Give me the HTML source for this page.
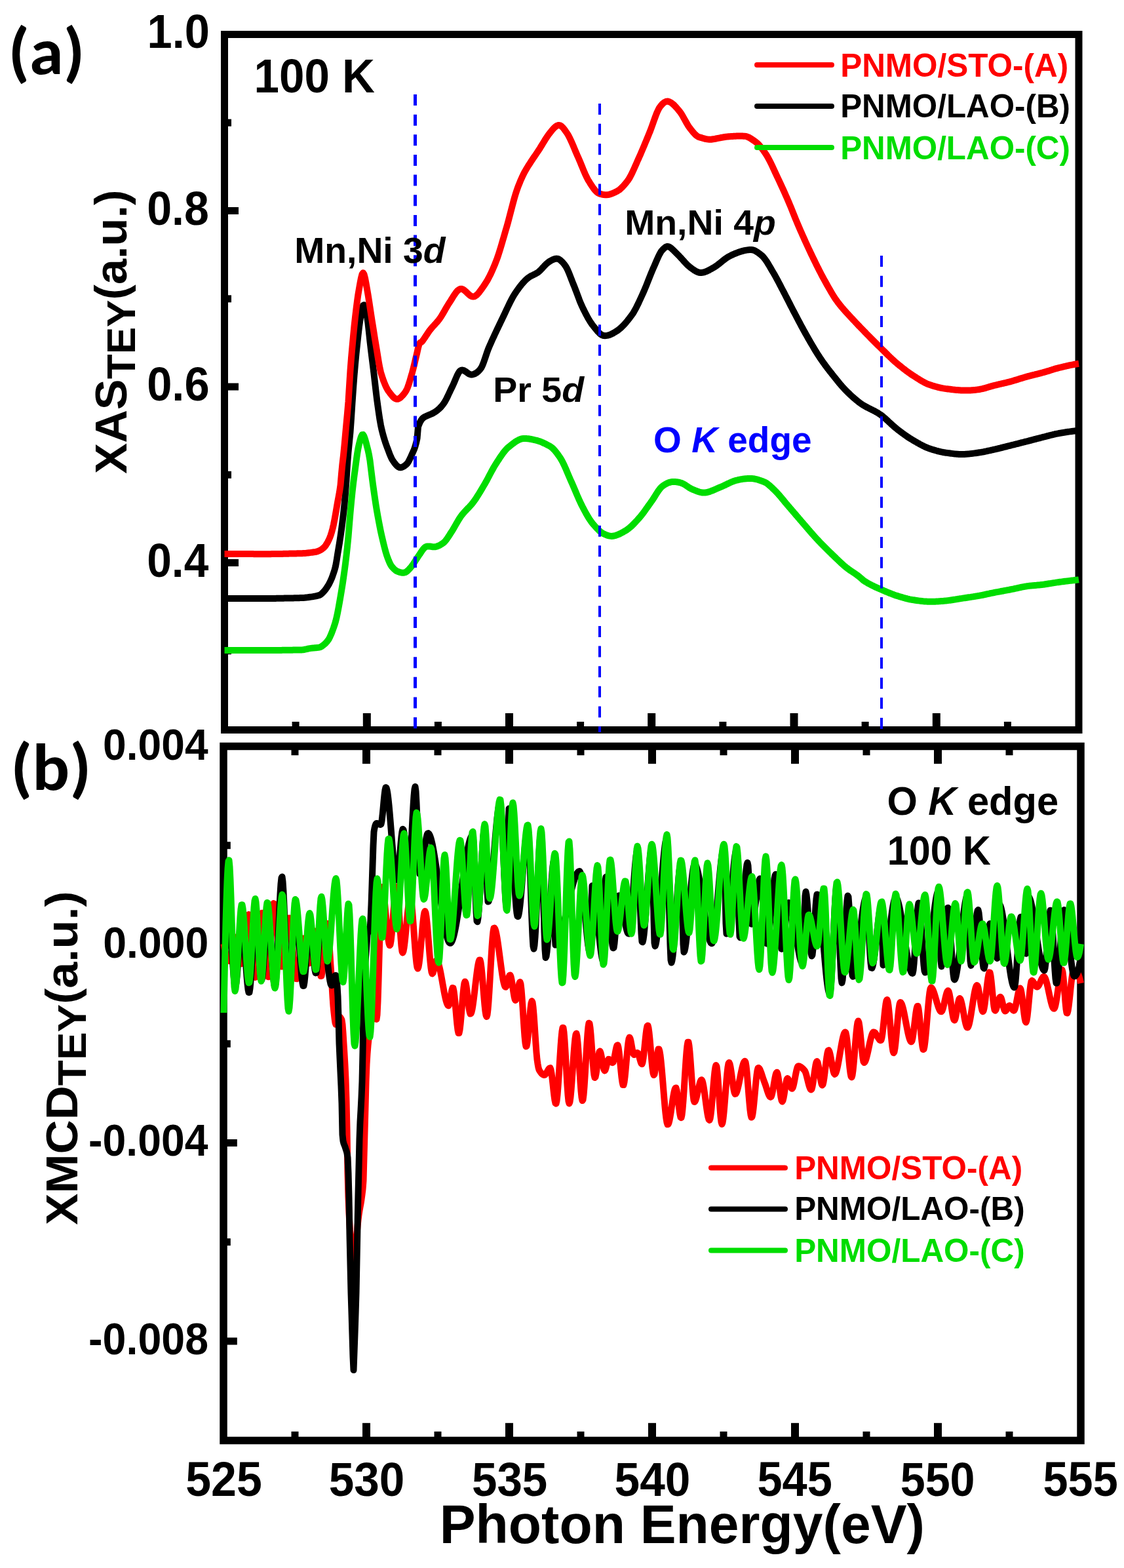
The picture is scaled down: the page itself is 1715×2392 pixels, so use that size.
<!DOCTYPE html><html><head><meta charset="utf-8"><title>XAS XMCD</title><style>
html,body{margin:0;padding:0;background:#fff;width:1715px;height:2392px;overflow:hidden}
svg{display:block}
text{font-family:"Liberation Sans", Arial, Helvetica, sans-serif;font-weight:bold}
.lbl{font-family:Carlito,"Liberation Sans",sans-serif;font-weight:bold}
</style></head><body>
<svg xmlns="http://www.w3.org/2000/svg" width="1715" height="2392" viewBox="0 0 1715 2392">
<rect x="342.5" y="52.5" width="1303.5" height="1061.0" fill="none" stroke="#000" stroke-width="11"/>
<g fill="#000"><rect x="445.6" y="1101.0" width="11" height="9"/><rect x="553.8" y="1088.0" width="12" height="22"/><rect x="662.9" y="1101.0" width="11" height="9"/><rect x="771.0" y="1088.0" width="12" height="22"/><rect x="880.1" y="1101.0" width="11" height="9"/><rect x="988.2" y="1088.0" width="12" height="22"/><rect x="1097.4" y="1101.0" width="11" height="9"/><rect x="1205.5" y="1088.0" width="12" height="22"/><rect x="1314.6" y="1101.0" width="11" height="9"/><rect x="1422.8" y="1088.0" width="12" height="22"/><rect x="1531.9" y="1101.0" width="11" height="9"/><rect x="347.0" y="181.7" width="6" height="11"/><rect x="347.0" y="316.0" width="17" height="11"/><rect x="347.0" y="450.3" width="6" height="11"/><rect x="347.0" y="584.5" width="17" height="11"/><rect x="347.0" y="718.8" width="6" height="11"/><rect x="347.0" y="853.0" width="17" height="11"/><rect x="347.0" y="987.3" width="6" height="11"/></g>
<g fill="none" stroke-linejoin="round" stroke-linecap="butt">
<path d="M342.5,992.0 L344.0,992.0 L345.5,992.0 L347.0,992.0 L348.5,992.0 L350.0,992.0 L351.5,992.0 L353.0,992.0 L354.5,992.0 L356.0,992.0 L357.5,992.0 L359.0,992.0 L360.5,992.0 L362.0,992.0 L363.5,992.0 L365.0,992.0 L366.5,992.0 L368.0,992.0 L369.5,992.0 L371.0,992.0 L372.5,992.0 L374.0,992.0 L375.5,992.0 L377.0,992.0 L378.5,992.0 L380.0,992.0 L381.5,992.0 L383.0,992.0 L384.5,992.0 L386.0,992.0 L387.5,992.0 L389.0,992.0 L390.5,992.0 L392.0,992.0 L393.5,992.0 L395.0,992.0 L396.5,992.0 L398.0,992.0 L399.5,992.0 L401.0,992.0 L402.5,992.0 L404.0,992.0 L405.5,992.0 L407.0,992.0 L408.5,992.0 L410.0,992.0 L411.5,992.0 L413.0,992.0 L414.5,992.0 L416.0,992.0 L417.5,992.0 L419.0,991.9 L420.5,991.9 L422.0,991.9 L423.5,991.9 L425.0,991.9 L426.5,991.9 L428.0,991.9 L429.5,991.9 L431.0,991.8 L432.5,991.8 L434.0,991.8 L435.5,991.8 L437.0,991.8 L438.5,991.8 L440.0,991.7 L441.5,991.7 L443.0,991.7 L444.5,991.7 L446.0,991.7 L447.5,991.6 L449.0,991.6 L450.5,991.6 L452.0,991.6 L453.5,991.5 L455.0,991.5 L456.5,991.5 L458.0,991.4 L459.5,991.4 L461.0,991.4 L462.5,991.2 L464.0,991.0 L465.5,990.7 L467.0,990.4 L468.5,990.1 L470.0,989.7 L471.5,989.4 L473.0,989.1 L474.5,988.9 L476.0,988.7 L477.5,988.6 L479.0,988.4 L480.5,988.3 L482.0,988.2 L483.5,988.1 L485.0,987.9 L486.5,987.7 L488.0,987.4 L489.5,986.8 L491.0,985.9 L492.5,984.8 L494.0,983.6 L495.5,982.4 L497.0,981.0 L498.5,979.3 L500.0,977.4 L501.5,975.3 L503.0,972.5 L504.5,969.2 L506.0,965.7 L507.5,961.7 L509.0,957.6 L510.5,953.2 L512.0,948.2 L513.5,942.3 L515.0,935.2 L516.5,927.4 L518.0,919.0 L519.5,910.3 L521.0,901.4 L522.5,892.1 L524.0,882.0 L525.5,871.4 L527.0,860.2 L528.5,847.7 L530.0,834.0 L531.5,818.7 L533.0,800.2 L534.5,782.0 L536.0,766.0 L537.5,751.0 L539.0,737.6 L540.5,725.9 L542.0,714.8 L543.5,703.5 L545.0,692.7 L546.5,683.9 L548.0,677.2 L549.5,671.1 L551.0,666.2 L552.5,663.3 L554.0,663.1 L555.5,665.6 L557.0,669.9 L558.5,675.2 L560.0,680.9 L561.5,686.7 L563.0,693.8 L564.5,702.7 L566.0,715.0 L567.5,727.2 L569.0,738.8 L570.5,749.5 L572.0,760.0 L573.5,769.9 L575.0,779.1 L576.5,787.6 L578.0,795.7 L579.5,803.5 L581.0,810.9 L582.5,817.8 L584.0,824.2 L585.5,830.4 L587.0,836.4 L588.5,841.9 L590.0,846.9 L591.5,851.1 L593.0,855.0 L594.5,858.5 L596.0,861.6 L597.5,863.9 L599.0,865.6 L600.5,867.3 L602.0,868.7 L603.5,870.0 L605.0,871.0 L606.5,871.7 L608.0,872.3 L609.5,872.8 L611.0,873.2 L612.5,873.5 L614.0,873.7 L615.5,873.7 L617.0,873.5 L618.5,873.1 L620.0,872.2 L621.5,871.1 L623.0,869.7 L624.5,868.1 L626.0,866.4 L627.5,864.6 L629.0,862.7 L630.5,860.6 L632.0,858.3 L633.5,855.9 L635.0,853.5 L636.5,851.2 L638.0,849.0 L639.5,846.8 L641.0,844.6 L642.5,842.3 L644.0,840.0 L645.5,838.0 L647.0,836.2 L648.5,834.9 L650.0,834.0 L651.5,833.5 L653.0,833.4 L654.5,833.4 L656.0,833.5 L657.5,833.7 L659.0,834.0 L660.5,834.2 L662.0,834.3 L663.5,834.3 L665.0,834.0 L666.5,833.6 L668.0,833.0 L669.5,832.4 L671.0,831.7 L672.5,830.8 L674.0,829.9 L675.5,828.9 L677.0,827.8 L678.5,826.4 L680.0,824.6 L681.5,822.7 L683.0,820.5 L684.5,818.2 L686.0,815.9 L687.5,813.5 L689.0,811.2 L690.5,808.9 L692.0,806.4 L693.5,803.8 L695.0,801.1 L696.5,798.5 L698.0,795.9 L699.5,793.4 L701.0,791.0 L702.5,788.7 L704.0,786.6 L705.5,784.7 L707.0,782.9 L708.5,781.2 L710.0,779.6 L711.5,778.0 L713.0,776.4 L714.5,774.9 L716.0,773.3 L717.5,771.7 L719.0,770.0 L720.5,768.2 L722.0,766.3 L723.5,764.3 L725.0,762.2 L726.5,759.9 L728.0,757.6 L729.5,755.3 L731.0,752.9 L732.5,750.4 L734.0,747.9 L735.5,745.4 L737.0,742.8 L738.5,740.3 L740.0,737.7 L741.5,735.1 L743.0,732.3 L744.5,729.5 L746.0,726.7 L747.5,723.8 L749.0,721.0 L750.5,718.2 L752.0,715.5 L753.5,712.8 L755.0,710.3 L756.5,707.9 L758.0,705.6 L759.5,703.2 L761.0,700.9 L762.5,698.6 L764.0,696.4 L765.5,694.2 L767.0,692.1 L768.5,690.1 L770.0,688.2 L771.5,686.4 L773.0,684.8 L774.5,683.3 L776.0,682.0 L777.5,680.8 L779.0,679.6 L780.5,678.4 L782.0,677.2 L783.5,676.1 L785.0,675.0 L786.5,673.9 L788.0,673.0 L789.5,672.1 L791.0,671.3 L792.5,670.6 L794.0,670.0 L795.5,669.5 L797.0,669.2 L798.5,669.0 L800.0,669.0 L801.5,669.0 L803.0,669.1 L804.5,669.2 L806.0,669.3 L807.5,669.5 L809.0,669.8 L810.5,670.0 L812.0,670.3 L813.5,670.7 L815.0,671.0 L816.5,671.4 L818.0,671.7 L819.5,672.1 L821.0,672.6 L822.5,673.0 L824.0,673.6 L825.5,674.1 L827.0,674.7 L828.5,675.4 L830.0,676.1 L831.5,676.8 L833.0,677.5 L834.5,678.3 L836.0,679.1 L837.5,679.9 L839.0,680.7 L840.5,681.7 L842.0,682.8 L843.5,684.1 L845.0,685.6 L846.5,687.3 L848.0,689.1 L849.5,691.0 L851.0,693.0 L852.5,695.1 L854.0,697.3 L855.5,699.6 L857.0,702.1 L858.5,704.9 L860.0,708.0 L861.5,711.2 L863.0,714.6 L864.5,718.0 L866.0,721.6 L867.5,725.1 L869.0,728.6 L870.5,732.1 L872.0,735.4 L873.5,738.8 L875.0,742.3 L876.5,745.8 L878.0,749.3 L879.5,752.9 L881.0,756.4 L882.5,759.8 L884.0,763.2 L885.5,766.4 L887.0,769.5 L888.5,772.5 L890.0,775.3 L891.5,778.2 L893.0,781.0 L894.5,783.7 L896.0,786.4 L897.5,788.9 L899.0,791.3 L900.5,793.6 L902.0,795.8 L903.5,797.8 L905.0,799.6 L906.5,801.3 L908.0,803.0 L909.5,804.7 L911.0,806.3 L912.5,807.8 L914.0,809.3 L915.5,810.6 L917.0,811.8 L918.5,812.9 L920.0,813.8 L921.5,814.5 L923.0,815.2 L924.5,815.8 L926.0,816.4 L927.5,816.9 L929.0,817.3 L930.5,817.6 L932.0,817.8 L933.5,817.9 L935.0,817.8 L936.5,817.5 L938.0,817.2 L939.5,816.8 L941.0,816.3 L942.5,815.7 L944.0,815.1 L945.5,814.4 L947.0,813.7 L948.5,812.9 L950.0,812.1 L951.5,811.2 L953.0,810.4 L954.5,809.5 L956.0,808.6 L957.5,807.5 L959.0,806.4 L960.5,805.2 L962.0,803.9 L963.5,802.6 L965.0,801.1 L966.5,799.6 L968.0,798.1 L969.5,796.5 L971.0,794.9 L972.5,793.3 L974.0,791.6 L975.5,789.9 L977.0,788.2 L978.5,786.3 L980.0,784.4 L981.5,782.4 L983.0,780.4 L984.5,778.3 L986.0,776.2 L987.5,774.1 L989.0,772.0 L990.5,769.9 L992.0,767.8 L993.5,765.7 L995.0,763.6 L996.5,761.4 L998.0,759.0 L999.5,756.6 L1001.0,754.2 L1002.5,751.8 L1004.0,749.5 L1005.5,747.4 L1007.0,745.4 L1008.5,743.7 L1010.0,742.3 L1011.5,741.1 L1013.0,740.1 L1014.5,739.1 L1016.0,738.3 L1017.5,737.5 L1019.0,736.8 L1020.5,736.2 L1022.0,735.8 L1023.5,735.4 L1025.0,735.1 L1026.5,735.0 L1028.0,735.0 L1029.5,735.0 L1031.0,735.1 L1032.5,735.3 L1034.0,735.5 L1035.5,735.7 L1037.0,736.1 L1038.5,736.5 L1040.0,737.0 L1041.5,737.6 L1043.0,738.4 L1044.5,739.2 L1046.0,740.2 L1047.5,741.2 L1049.0,742.2 L1050.5,743.2 L1052.0,744.1 L1053.5,745.0 L1055.0,745.8 L1056.5,746.5 L1058.0,747.1 L1059.5,747.7 L1061.0,748.3 L1062.5,748.9 L1064.0,749.5 L1065.5,750.0 L1067.0,750.5 L1068.5,750.9 L1070.0,751.2 L1071.5,751.5 L1073.0,751.6 L1074.5,751.6 L1076.0,751.5 L1077.5,751.3 L1079.0,751.0 L1080.5,750.6 L1082.0,750.2 L1083.5,749.7 L1085.0,749.1 L1086.5,748.6 L1088.0,748.0 L1089.5,747.3 L1091.0,746.7 L1092.5,746.0 L1094.0,745.3 L1095.5,744.7 L1097.0,744.0 L1098.5,743.4 L1100.0,742.8 L1101.5,742.2 L1103.0,741.5 L1104.5,740.8 L1106.0,740.1 L1107.5,739.4 L1109.0,738.6 L1110.5,737.9 L1112.0,737.2 L1113.5,736.5 L1115.0,735.8 L1116.5,735.2 L1118.0,734.6 L1119.5,734.0 L1121.0,733.5 L1122.5,733.0 L1124.0,732.6 L1125.5,732.3 L1127.0,731.9 L1128.5,731.6 L1130.0,731.3 L1131.5,731.1 L1133.0,730.8 L1134.5,730.6 L1136.0,730.5 L1137.5,730.3 L1139.0,730.2 L1140.5,730.1 L1142.0,730.1 L1143.5,730.0 L1145.0,730.0 L1146.5,730.0 L1148.0,730.1 L1149.5,730.3 L1151.0,730.5 L1152.5,730.8 L1154.0,731.1 L1155.5,731.5 L1157.0,731.9 L1158.5,732.4 L1160.0,732.9 L1161.5,733.5 L1163.0,734.0 L1164.5,734.6 L1166.0,735.2 L1167.5,735.9 L1169.0,736.7 L1170.5,737.7 L1172.0,738.9 L1173.5,740.1 L1175.0,741.4 L1176.5,742.7 L1178.0,744.1 L1179.5,745.6 L1181.0,747.0 L1182.5,748.5 L1184.0,750.0 L1185.5,751.6 L1187.0,753.2 L1188.5,754.9 L1190.0,756.6 L1191.5,758.4 L1193.0,760.2 L1194.5,762.0 L1196.0,763.8 L1197.5,765.7 L1199.0,767.5 L1200.5,769.2 L1202.0,771.0 L1203.5,772.7 L1205.0,774.5 L1206.5,776.2 L1208.0,778.0 L1209.5,779.7 L1211.0,781.5 L1212.5,783.2 L1214.0,785.0 L1215.5,786.8 L1217.0,788.5 L1218.5,790.3 L1220.0,792.0 L1221.5,793.8 L1223.0,795.5 L1224.5,797.2 L1226.0,799.0 L1227.5,800.7 L1229.0,802.4 L1230.5,804.2 L1232.0,805.9 L1233.5,807.7 L1235.0,809.4 L1236.5,811.2 L1238.0,812.9 L1239.5,814.6 L1241.0,816.3 L1242.5,818.0 L1244.0,819.7 L1245.5,821.3 L1247.0,822.9 L1248.5,824.5 L1250.0,826.1 L1251.5,827.7 L1253.0,829.2 L1254.5,830.8 L1256.0,832.3 L1257.5,833.8 L1259.0,835.3 L1260.5,836.8 L1262.0,838.3 L1263.5,839.8 L1265.0,841.2 L1266.5,842.7 L1268.0,844.1 L1269.5,845.6 L1271.0,847.0 L1272.5,848.5 L1274.0,849.9 L1275.5,851.4 L1277.0,852.8 L1278.5,854.2 L1280.0,855.7 L1281.5,857.1 L1283.0,858.5 L1284.5,859.9 L1286.0,861.2 L1287.5,862.6 L1289.0,863.8 L1290.5,865.1 L1292.0,866.3 L1293.5,867.4 L1295.0,868.5 L1296.5,869.6 L1298.0,870.7 L1299.5,871.7 L1301.0,872.7 L1302.5,873.7 L1304.0,874.7 L1305.5,875.7 L1307.0,876.8 L1308.5,877.9 L1310.0,879.0 L1311.5,880.2 L1313.0,881.5 L1314.5,882.8 L1316.0,884.1 L1317.5,885.4 L1319.0,886.5 L1320.5,887.4 L1322.0,888.3 L1323.5,889.2 L1325.0,890.1 L1326.5,890.9 L1328.0,891.7 L1329.5,892.5 L1331.0,893.2 L1332.5,893.9 L1334.0,894.7 L1335.5,895.4 L1337.0,896.1 L1338.5,896.7 L1340.0,897.4 L1341.5,898.0 L1343.0,898.7 L1344.5,899.3 L1346.0,900.0 L1347.5,900.6 L1349.0,901.3 L1350.5,901.9 L1352.0,902.6 L1353.5,903.2 L1355.0,903.8 L1356.5,904.4 L1358.0,905.1 L1359.5,905.6 L1361.0,906.2 L1362.5,906.8 L1364.0,907.3 L1365.5,907.9 L1367.0,908.4 L1368.5,908.8 L1370.0,909.3 L1371.5,909.8 L1373.0,910.2 L1374.5,910.7 L1376.0,911.1 L1377.5,911.6 L1379.0,912.0 L1380.5,912.4 L1382.0,912.8 L1383.5,913.2 L1385.0,913.6 L1386.5,913.9 L1388.0,914.3 L1389.5,914.6 L1391.0,914.8 L1392.5,915.1 L1394.0,915.3 L1395.5,915.5 L1397.0,915.8 L1398.5,916.0 L1400.0,916.2 L1401.5,916.4 L1403.0,916.6 L1404.5,916.8 L1406.0,917.0 L1407.5,917.1 L1409.0,917.3 L1410.5,917.4 L1412.0,917.5 L1413.5,917.6 L1415.0,917.7 L1416.5,917.8 L1418.0,917.8 L1419.5,917.8 L1421.0,917.8 L1422.5,917.8 L1424.0,917.7 L1425.5,917.7 L1427.0,917.7 L1428.5,917.6 L1430.0,917.5 L1431.5,917.4 L1433.0,917.3 L1434.5,917.2 L1436.0,917.1 L1437.5,917.0 L1439.0,916.9 L1440.5,916.7 L1442.0,916.6 L1443.5,916.4 L1445.0,916.3 L1446.5,916.1 L1448.0,915.9 L1449.5,915.7 L1451.0,915.5 L1452.5,915.3 L1454.0,915.0 L1455.5,914.8 L1457.0,914.6 L1458.5,914.3 L1460.0,914.1 L1461.5,913.8 L1463.0,913.6 L1464.5,913.3 L1466.0,913.1 L1467.5,912.9 L1469.0,912.6 L1470.5,912.4 L1472.0,912.2 L1473.5,912.0 L1475.0,911.8 L1476.5,911.5 L1478.0,911.3 L1479.5,911.1 L1481.0,910.9 L1482.5,910.6 L1484.0,910.4 L1485.5,910.2 L1487.0,909.9 L1488.5,909.7 L1490.0,909.4 L1491.5,909.2 L1493.0,908.9 L1494.5,908.7 L1496.0,908.4 L1497.5,908.1 L1499.0,907.8 L1500.5,907.5 L1502.0,907.2 L1503.5,906.8 L1505.0,906.5 L1506.5,906.2 L1508.0,905.9 L1509.5,905.6 L1511.0,905.2 L1512.5,904.9 L1514.0,904.6 L1515.5,904.3 L1517.0,904.0 L1518.5,903.7 L1520.0,903.4 L1521.5,903.1 L1523.0,902.9 L1524.5,902.6 L1526.0,902.3 L1527.5,902.0 L1529.0,901.7 L1530.5,901.5 L1532.0,901.2 L1533.5,900.9 L1535.0,900.6 L1536.5,900.3 L1538.0,900.1 L1539.5,899.8 L1541.0,899.5 L1542.5,899.2 L1544.0,898.9 L1545.5,898.6 L1547.0,898.3 L1548.5,897.9 L1550.0,897.6 L1551.5,897.3 L1553.0,897.0 L1554.5,896.6 L1556.0,896.3 L1557.5,896.0 L1559.0,895.7 L1560.5,895.4 L1562.0,895.1 L1563.5,894.8 L1565.0,894.6 L1566.5,894.3 L1568.0,894.1 L1569.5,893.9 L1571.0,893.7 L1572.5,893.6 L1574.0,893.4 L1575.5,893.3 L1577.0,893.2 L1578.5,893.0 L1580.0,892.9 L1581.5,892.8 L1583.0,892.6 L1584.5,892.5 L1586.0,892.4 L1587.5,892.2 L1589.0,892.0 L1590.5,891.9 L1592.0,891.7 L1593.5,891.5 L1595.0,891.2 L1596.5,891.0 L1598.0,890.8 L1599.5,890.5 L1601.0,890.3 L1602.5,890.1 L1604.0,889.8 L1605.5,889.6 L1607.0,889.3 L1608.5,889.1 L1610.0,888.9 L1611.5,888.6 L1613.0,888.4 L1614.5,888.2 L1616.0,888.0 L1617.5,887.8 L1619.0,887.6 L1620.5,887.4 L1622.0,887.2 L1623.5,887.0 L1625.0,886.8 L1626.5,886.6 L1628.0,886.4 L1629.5,886.3 L1631.0,886.1 L1632.5,885.9 L1634.0,885.7 L1635.5,885.5 L1637.0,885.4 L1638.5,885.2 L1640.0,885.0 L1641.5,884.9 L1643.0,884.7 L1644.5,884.6 L1646.0,884.4" stroke="#00dd00" stroke-width="10"/>
<path d="M342.5,913.0 L344.0,913.0 L345.5,913.0 L347.0,913.0 L348.5,913.0 L350.0,913.0 L351.5,913.0 L353.0,913.0 L354.5,913.0 L356.0,913.0 L357.5,913.0 L359.0,913.0 L360.5,913.0 L362.0,913.0 L363.5,913.0 L365.0,913.0 L366.5,913.0 L368.0,913.0 L369.5,913.0 L371.0,913.0 L372.5,913.0 L374.0,913.0 L375.5,913.0 L377.0,913.0 L378.5,913.0 L380.0,913.0 L381.5,913.0 L383.0,913.0 L384.5,913.0 L386.0,913.0 L387.5,913.0 L389.0,913.0 L390.5,913.0 L392.0,913.0 L393.5,913.0 L395.0,913.0 L396.5,913.0 L398.0,913.0 L399.5,913.0 L401.0,913.0 L402.5,913.0 L404.0,913.0 L405.5,913.0 L407.0,913.0 L408.5,913.0 L410.0,913.0 L411.5,913.0 L413.0,912.9 L414.5,912.9 L416.0,912.9 L417.5,912.9 L419.0,912.9 L420.5,912.9 L422.0,912.8 L423.5,912.8 L425.0,912.8 L426.5,912.8 L428.0,912.8 L429.5,912.7 L431.0,912.7 L432.5,912.7 L434.0,912.6 L435.5,912.6 L437.0,912.6 L438.5,912.6 L440.0,912.5 L441.5,912.5 L443.0,912.5 L444.5,912.4 L446.0,912.4 L447.5,912.4 L449.0,912.3 L450.5,912.3 L452.0,912.3 L453.5,912.2 L455.0,912.2 L456.5,912.2 L458.0,912.1 L459.5,912.1 L461.0,912.1 L462.5,912.0 L464.0,911.9 L465.5,911.7 L467.0,911.5 L468.5,911.4 L470.0,911.2 L471.5,911.0 L473.0,910.8 L474.5,910.6 L476.0,910.4 L477.5,910.2 L479.0,909.9 L480.5,909.6 L482.0,909.3 L483.5,909.0 L485.0,908.6 L486.5,908.2 L488.0,907.7 L489.5,906.8 L491.0,905.5 L492.5,904.0 L494.0,902.4 L495.5,900.7 L497.0,898.8 L498.5,896.6 L500.0,894.3 L501.5,891.9 L503.0,889.0 L504.5,885.8 L506.0,882.4 L507.5,878.4 L509.0,874.1 L510.5,869.5 L512.0,863.9 L513.5,855.7 L515.0,846.0 L516.5,837.1 L518.0,828.1 L519.5,818.3 L521.0,807.7 L522.5,796.2 L524.0,783.7 L525.5,769.4 L527.0,752.3 L528.5,732.5 L530.0,708.5 L531.5,689.4 L533.0,674.6 L534.5,658.9 L536.0,637.9 L537.5,614.5 L539.0,593.0 L540.5,572.9 L542.0,555.5 L543.5,539.5 L545.0,525.2 L546.5,511.5 L548.0,498.7 L549.5,487.7 L551.0,478.7 L552.5,470.9 L554.0,465.8 L555.5,465.2 L557.0,468.5 L558.5,474.7 L560.0,482.8 L561.5,493.2 L563.0,506.7 L564.5,520.9 L566.0,533.6 L567.5,545.8 L569.0,557.9 L570.5,570.1 L572.0,583.1 L573.5,596.3 L575.0,608.6 L576.5,619.7 L578.0,630.3 L579.5,640.2 L581.0,648.7 L582.5,655.6 L584.0,661.4 L585.5,666.8 L587.0,671.8 L588.5,676.4 L590.0,680.6 L591.5,684.6 L593.0,688.6 L594.5,692.6 L596.0,696.2 L597.5,699.4 L599.0,702.0 L600.5,704.2 L602.0,706.3 L603.5,708.2 L605.0,709.9 L606.5,711.3 L608.0,712.4 L609.5,713.0 L611.0,713.2 L612.5,713.0 L614.0,712.5 L615.5,711.8 L617.0,710.9 L618.5,709.7 L620.0,708.4 L621.5,706.9 L623.0,704.7 L624.5,701.9 L626.0,698.8 L627.5,695.5 L629.0,692.1 L630.5,688.9 L632.0,685.3 L633.5,681.0 L635.0,675.6 L636.5,669.0 L638.0,651.0 L639.5,647.1 L641.0,643.8 L642.5,641.2 L644.0,639.1 L645.5,637.6 L647.0,636.5 L648.5,635.7 L650.0,635.0 L651.5,634.3 L653.0,633.7 L654.5,633.0 L656.0,632.4 L657.5,631.8 L659.0,631.1 L660.5,630.4 L662.0,629.5 L663.5,628.6 L665.0,627.6 L666.5,626.5 L668.0,625.3 L669.5,624.0 L671.0,622.6 L672.5,621.1 L674.0,619.4 L675.5,617.6 L677.0,615.6 L678.5,613.3 L680.0,610.6 L681.5,607.8 L683.0,604.7 L684.5,601.5 L686.0,598.3 L687.5,595.1 L689.0,592.0 L690.5,589.0 L692.0,585.7 L693.5,582.2 L695.0,578.6 L696.5,575.1 L698.0,571.8 L699.5,569.0 L701.0,566.8 L702.5,565.3 L704.0,564.7 L705.5,564.6 L707.0,564.9 L708.5,565.6 L710.0,566.5 L711.5,567.5 L713.0,568.6 L714.5,569.7 L716.0,570.6 L717.5,571.2 L719.0,571.5 L720.5,571.4 L722.0,571.1 L723.5,570.6 L725.0,569.9 L726.5,569.0 L728.0,568.0 L729.5,566.7 L731.0,565.2 L732.5,563.6 L734.0,561.6 L735.5,558.7 L737.0,555.2 L738.5,551.2 L740.0,546.8 L741.5,542.3 L743.0,537.9 L744.5,533.7 L746.0,530.0 L747.5,526.6 L749.0,523.2 L750.5,519.8 L752.0,516.5 L753.5,513.3 L755.0,510.0 L756.5,506.8 L758.0,503.6 L759.5,500.5 L761.0,497.3 L762.5,494.2 L764.0,491.1 L765.5,488.0 L767.0,484.9 L768.5,481.8 L770.0,478.6 L771.5,475.4 L773.0,472.2 L774.5,469.0 L776.0,465.9 L777.5,462.8 L779.0,459.8 L780.5,456.9 L782.0,454.1 L783.5,451.5 L785.0,449.0 L786.5,446.7 L788.0,444.5 L789.5,442.4 L791.0,440.3 L792.5,438.3 L794.0,436.3 L795.5,434.4 L797.0,432.6 L798.5,430.9 L800.0,429.3 L801.5,427.7 L803.0,426.3 L804.5,425.0 L806.0,423.8 L807.5,422.7 L809.0,421.8 L810.5,420.9 L812.0,420.2 L813.5,419.5 L815.0,418.7 L816.5,418.0 L818.0,417.2 L819.5,416.3 L821.0,415.3 L822.5,414.1 L824.0,412.7 L825.5,411.2 L827.0,409.6 L828.5,407.9 L830.0,406.3 L831.5,404.7 L833.0,403.2 L834.5,401.8 L836.0,400.6 L837.5,399.5 L839.0,398.5 L840.5,397.6 L842.0,396.8 L843.5,396.1 L845.0,395.5 L846.5,395.0 L848.0,394.7 L849.5,394.6 L851.0,394.8 L852.5,395.3 L854.0,396.2 L855.5,397.4 L857.0,398.8 L858.5,400.3 L860.0,402.0 L861.5,403.9 L863.0,405.9 L864.5,408.5 L866.0,411.5 L867.5,414.9 L869.0,418.6 L870.5,422.5 L872.0,426.4 L873.5,430.3 L875.0,434.0 L876.5,437.7 L878.0,441.6 L879.5,445.6 L881.0,449.6 L882.5,453.6 L884.0,457.6 L885.5,461.3 L887.0,464.8 L888.5,468.1 L890.0,471.2 L891.5,474.3 L893.0,477.2 L894.5,480.2 L896.0,483.0 L897.5,485.7 L899.0,488.2 L900.5,490.7 L902.0,492.9 L903.5,495.1 L905.0,497.0 L906.5,498.9 L908.0,500.7 L909.5,502.6 L911.0,504.4 L912.5,506.1 L914.0,507.7 L915.5,509.1 L917.0,510.2 L918.5,511.1 L920.0,511.8 L921.5,512.1 L923.0,512.2 L924.5,512.1 L926.0,511.9 L927.5,511.6 L929.0,511.2 L930.5,510.7 L932.0,510.1 L933.5,509.3 L935.0,508.6 L936.5,507.7 L938.0,506.9 L939.5,505.9 L941.0,505.0 L942.5,504.0 L944.0,502.9 L945.5,501.7 L947.0,500.4 L948.5,499.0 L950.0,497.5 L951.5,496.0 L953.0,494.4 L954.5,492.7 L956.0,490.9 L957.5,489.1 L959.0,487.2 L960.5,485.3 L962.0,483.3 L963.5,481.3 L965.0,479.2 L966.5,476.9 L968.0,474.3 L969.5,471.6 L971.0,468.8 L972.5,465.8 L974.0,462.7 L975.5,459.5 L977.0,456.2 L978.5,453.0 L980.0,449.7 L981.5,446.4 L983.0,443.0 L984.5,439.4 L986.0,435.8 L987.5,432.0 L989.0,428.2 L990.5,424.4 L992.0,420.7 L993.5,416.9 L995.0,413.3 L996.5,409.8 L998.0,406.5 L999.5,403.0 L1001.0,399.5 L1002.5,396.1 L1004.0,392.7 L1005.5,389.5 L1007.0,386.7 L1008.5,384.1 L1010.0,382.1 L1011.5,380.5 L1013.0,379.0 L1014.5,377.7 L1016.0,376.7 L1017.5,376.1 L1019.0,376.0 L1020.5,376.4 L1022.0,377.2 L1023.5,378.2 L1025.0,379.4 L1026.5,380.8 L1028.0,382.2 L1029.5,383.7 L1031.0,385.2 L1032.5,386.7 L1034.0,388.2 L1035.5,389.7 L1037.0,391.3 L1038.5,392.9 L1040.0,394.6 L1041.5,396.2 L1043.0,397.9 L1044.5,399.6 L1046.0,401.2 L1047.5,402.8 L1049.0,404.3 L1050.5,405.7 L1052.0,406.9 L1053.5,408.1 L1055.0,409.2 L1056.5,410.3 L1058.0,411.3 L1059.5,412.4 L1061.0,413.3 L1062.5,414.1 L1064.0,414.8 L1065.5,415.4 L1067.0,415.8 L1068.5,416.0 L1070.0,416.0 L1071.5,415.8 L1073.0,415.6 L1074.5,415.2 L1076.0,414.7 L1077.5,414.1 L1079.0,413.5 L1080.5,412.8 L1082.0,412.0 L1083.5,411.2 L1085.0,410.4 L1086.5,409.5 L1088.0,408.6 L1089.5,407.8 L1091.0,406.9 L1092.5,405.9 L1094.0,404.8 L1095.5,403.7 L1097.0,402.5 L1098.5,401.3 L1100.0,400.1 L1101.5,398.9 L1103.0,397.7 L1104.5,396.5 L1106.0,395.4 L1107.5,394.3 L1109.0,393.2 L1110.5,392.3 L1112.0,391.4 L1113.5,390.6 L1115.0,389.8 L1116.5,389.1 L1118.0,388.4 L1119.5,387.7 L1121.0,387.1 L1122.5,386.4 L1124.0,385.9 L1125.5,385.3 L1127.0,384.7 L1128.5,384.2 L1130.0,383.8 L1131.5,383.3 L1133.0,382.9 L1134.5,382.5 L1136.0,382.2 L1137.5,381.9 L1139.0,381.6 L1140.5,381.4 L1142.0,381.2 L1143.5,381.1 L1145.0,381.0 L1146.5,381.0 L1148.0,381.2 L1149.5,381.6 L1151.0,382.1 L1152.5,382.8 L1154.0,383.7 L1155.5,384.6 L1157.0,385.6 L1158.5,386.8 L1160.0,387.9 L1161.5,389.1 L1163.0,390.4 L1164.5,391.9 L1166.0,393.7 L1167.5,395.7 L1169.0,397.8 L1170.5,400.1 L1172.0,402.5 L1173.5,405.0 L1175.0,407.6 L1176.5,410.1 L1178.0,412.7 L1179.5,415.2 L1181.0,417.7 L1182.5,420.4 L1184.0,423.1 L1185.5,425.9 L1187.0,428.7 L1188.5,431.5 L1190.0,434.4 L1191.5,437.3 L1193.0,440.2 L1194.5,443.0 L1196.0,445.9 L1197.5,448.8 L1199.0,451.7 L1200.5,454.6 L1202.0,457.6 L1203.5,460.5 L1205.0,463.4 L1206.5,466.4 L1208.0,469.3 L1209.5,472.2 L1211.0,475.1 L1212.5,477.9 L1214.0,480.8 L1215.5,483.6 L1217.0,486.5 L1218.5,489.3 L1220.0,492.1 L1221.5,495.0 L1223.0,497.8 L1224.5,500.5 L1226.0,503.3 L1227.5,506.0 L1229.0,508.7 L1230.5,511.4 L1232.0,514.0 L1233.5,516.7 L1235.0,519.3 L1236.5,521.9 L1238.0,524.5 L1239.5,527.0 L1241.0,529.6 L1242.5,532.1 L1244.0,534.6 L1245.5,537.0 L1247.0,539.5 L1248.5,541.8 L1250.0,544.1 L1251.5,546.4 L1253.0,548.5 L1254.5,550.7 L1256.0,552.8 L1257.5,554.9 L1259.0,557.0 L1260.5,559.0 L1262.0,561.0 L1263.5,563.0 L1265.0,564.9 L1266.5,566.8 L1268.0,568.7 L1269.5,570.6 L1271.0,572.5 L1272.5,574.4 L1274.0,576.2 L1275.5,578.1 L1277.0,580.0 L1278.5,581.8 L1280.0,583.7 L1281.5,585.5 L1283.0,587.2 L1284.5,589.0 L1286.0,590.7 L1287.5,592.3 L1289.0,594.0 L1290.5,595.5 L1292.0,597.0 L1293.5,598.5 L1295.0,599.9 L1296.5,601.4 L1298.0,602.8 L1299.5,604.2 L1301.0,605.5 L1302.5,606.9 L1304.0,608.2 L1305.5,609.4 L1307.0,610.7 L1308.5,611.9 L1310.0,613.1 L1311.5,614.2 L1313.0,615.3 L1314.5,616.3 L1316.0,617.3 L1317.5,618.3 L1319.0,619.2 L1320.5,620.0 L1322.0,620.9 L1323.5,621.6 L1325.0,622.4 L1326.5,623.2 L1328.0,623.9 L1329.5,624.7 L1331.0,625.4 L1332.5,626.2 L1334.0,626.9 L1335.5,627.7 L1337.0,628.6 L1338.5,629.4 L1340.0,630.3 L1341.5,631.3 L1343.0,632.3 L1344.5,633.4 L1346.0,634.5 L1347.5,635.7 L1349.0,637.0 L1350.5,638.3 L1352.0,639.6 L1353.5,641.0 L1355.0,642.4 L1356.5,643.8 L1358.0,645.2 L1359.5,646.6 L1361.0,647.9 L1362.5,649.3 L1364.0,650.6 L1365.5,651.9 L1367.0,653.2 L1368.5,654.4 L1370.0,655.6 L1371.5,656.7 L1373.0,657.9 L1374.5,659.0 L1376.0,660.1 L1377.5,661.2 L1379.0,662.3 L1380.5,663.4 L1382.0,664.4 L1383.5,665.5 L1385.0,666.5 L1386.5,667.5 L1388.0,668.5 L1389.5,669.4 L1391.0,670.3 L1392.5,671.2 L1394.0,672.1 L1395.5,673.0 L1397.0,673.9 L1398.5,674.7 L1400.0,675.6 L1401.5,676.4 L1403.0,677.3 L1404.5,678.1 L1406.0,678.9 L1407.5,679.7 L1409.0,680.4 L1410.5,681.2 L1412.0,681.9 L1413.5,682.5 L1415.0,683.1 L1416.5,683.7 L1418.0,684.2 L1419.5,684.7 L1421.0,685.2 L1422.5,685.7 L1424.0,686.2 L1425.5,686.6 L1427.0,687.0 L1428.5,687.5 L1430.0,687.9 L1431.5,688.3 L1433.0,688.7 L1434.5,689.0 L1436.0,689.4 L1437.5,689.7 L1439.0,690.0 L1440.5,690.2 L1442.0,690.5 L1443.5,690.7 L1445.0,690.9 L1446.5,691.1 L1448.0,691.3 L1449.5,691.5 L1451.0,691.7 L1452.5,691.9 L1454.0,692.1 L1455.5,692.3 L1457.0,692.4 L1458.5,692.6 L1460.0,692.7 L1461.5,692.8 L1463.0,692.9 L1464.5,693.0 L1466.0,693.0 L1467.5,693.0 L1469.0,693.0 L1470.5,692.9 L1472.0,692.9 L1473.5,692.8 L1475.0,692.7 L1476.5,692.6 L1478.0,692.4 L1479.5,692.3 L1481.0,692.1 L1482.5,691.9 L1484.0,691.8 L1485.5,691.6 L1487.0,691.4 L1488.5,691.2 L1490.0,691.0 L1491.5,690.8 L1493.0,690.5 L1494.5,690.3 L1496.0,690.1 L1497.5,689.8 L1499.0,689.6 L1500.5,689.3 L1502.0,689.0 L1503.5,688.7 L1505.0,688.4 L1506.5,688.0 L1508.0,687.7 L1509.5,687.4 L1511.0,687.1 L1512.5,686.7 L1514.0,686.4 L1515.5,686.0 L1517.0,685.7 L1518.5,685.4 L1520.0,685.0 L1521.5,684.7 L1523.0,684.3 L1524.5,683.9 L1526.0,683.6 L1527.5,683.2 L1529.0,682.8 L1530.5,682.4 L1532.0,682.0 L1533.5,681.7 L1535.0,681.3 L1536.5,680.9 L1538.0,680.5 L1539.5,680.1 L1541.0,679.8 L1542.5,679.4 L1544.0,679.0 L1545.5,678.6 L1547.0,678.3 L1548.5,677.9 L1550.0,677.5 L1551.5,677.1 L1553.0,676.8 L1554.5,676.4 L1556.0,676.0 L1557.5,675.6 L1559.0,675.2 L1560.5,674.9 L1562.0,674.5 L1563.5,674.1 L1565.0,673.7 L1566.5,673.4 L1568.0,673.0 L1569.5,672.6 L1571.0,672.2 L1572.5,671.8 L1574.0,671.4 L1575.5,671.0 L1577.0,670.6 L1578.5,670.2 L1580.0,669.8 L1581.5,669.4 L1583.0,669.0 L1584.5,668.7 L1586.0,668.3 L1587.5,667.9 L1589.0,667.5 L1590.5,667.1 L1592.0,666.7 L1593.5,666.4 L1595.0,666.0 L1596.5,665.6 L1598.0,665.2 L1599.5,664.8 L1601.0,664.4 L1602.5,664.0 L1604.0,663.6 L1605.5,663.3 L1607.0,662.9 L1608.5,662.6 L1610.0,662.2 L1611.5,661.9 L1613.0,661.6 L1614.5,661.3 L1616.0,661.0 L1617.5,660.7 L1619.0,660.5 L1620.5,660.2 L1622.0,660.0 L1623.5,659.7 L1625.0,659.5 L1626.5,659.2 L1628.0,659.0 L1629.5,658.8 L1631.0,658.6 L1632.5,658.4 L1634.0,658.2 L1635.5,658.0 L1637.0,657.8 L1638.5,657.6 L1640.0,657.5 L1641.5,657.3 L1643.0,657.2 L1644.5,657.1 L1646.0,657.0" stroke="#000" stroke-width="10"/>
<path d="M342.5,845.0 L344.0,845.0 L345.5,845.0 L347.0,845.0 L348.5,845.0 L350.0,845.0 L351.5,845.0 L353.0,845.0 L354.5,845.0 L356.0,845.0 L357.5,845.0 L359.0,845.0 L360.5,845.0 L362.0,845.0 L363.5,845.0 L365.0,845.0 L366.5,845.1 L368.0,845.1 L369.5,845.1 L371.0,845.1 L372.5,845.1 L374.0,845.1 L375.5,845.1 L377.0,845.1 L378.5,845.1 L380.0,845.1 L381.5,845.1 L383.0,845.1 L384.5,845.1 L386.0,845.1 L387.5,845.2 L389.0,845.2 L390.5,845.2 L392.0,845.2 L393.5,845.2 L395.0,845.2 L396.5,845.2 L398.0,845.2 L399.5,845.2 L401.0,845.2 L402.5,845.2 L404.0,845.2 L405.5,845.2 L407.0,845.2 L408.5,845.2 L410.0,845.2 L411.5,845.2 L413.0,845.2 L414.5,845.1 L416.0,845.1 L417.5,845.1 L419.0,845.1 L420.5,845.1 L422.0,845.0 L423.5,845.0 L425.0,845.0 L426.5,845.0 L428.0,844.9 L429.5,844.9 L431.0,844.9 L432.5,844.8 L434.0,844.8 L435.5,844.8 L437.0,844.7 L438.5,844.7 L440.0,844.7 L441.5,844.6 L443.0,844.6 L444.5,844.6 L446.0,844.5 L447.5,844.5 L449.0,844.5 L450.5,844.4 L452.0,844.4 L453.5,844.3 L455.0,844.3 L456.5,844.3 L458.0,844.2 L459.5,844.2 L461.0,844.2 L462.5,844.1 L464.0,844.0 L465.5,843.9 L467.0,843.8 L468.5,843.6 L470.0,843.5 L471.5,843.3 L473.0,843.1 L474.5,842.9 L476.0,842.7 L477.5,842.5 L479.0,842.3 L480.5,842.1 L482.0,841.8 L483.5,841.4 L485.0,840.9 L486.5,840.3 L488.0,839.7 L489.5,838.9 L491.0,837.9 L492.5,836.7 L494.0,835.5 L495.5,833.9 L497.0,831.9 L498.5,829.6 L500.0,827.1 L501.5,824.1 L503.0,820.6 L504.5,816.7 L506.0,811.9 L507.5,806.5 L509.0,800.1 L510.5,792.6 L512.0,784.2 L513.5,775.3 L515.0,766.6 L516.5,758.6 L518.0,750.4 L519.5,740.2 L521.0,723.0 L522.5,707.3 L524.0,694.7 L525.5,679.6 L527.0,662.8 L528.5,646.4 L530.0,630.5 L531.5,612.9 L533.0,588.9 L534.5,565.2 L536.0,546.2 L537.5,529.1 L539.0,512.9 L540.5,497.5 L542.0,483.7 L543.5,471.2 L545.0,459.3 L546.5,448.8 L548.0,440.1 L549.5,431.7 L551.0,424.0 L552.5,418.4 L554.0,416.2 L555.5,418.5 L557.0,424.2 L558.5,432.1 L560.0,440.6 L561.5,449.3 L563.0,458.8 L564.5,468.8 L566.0,478.8 L567.5,488.4 L569.0,497.9 L570.5,507.4 L572.0,516.7 L573.5,525.7 L575.0,534.8 L576.5,544.1 L578.0,553.2 L579.5,561.3 L581.0,567.9 L582.5,572.9 L584.0,577.5 L585.5,581.7 L587.0,585.5 L588.5,589.0 L590.0,592.1 L591.5,594.7 L593.0,597.0 L594.5,598.9 L596.0,600.9 L597.5,602.8 L599.0,604.6 L600.5,606.1 L602.0,607.4 L603.5,608.3 L605.0,608.8 L606.5,608.8 L608.0,608.4 L609.5,607.6 L611.0,606.6 L612.5,605.2 L614.0,603.6 L615.5,601.9 L617.0,599.9 L618.5,597.9 L620.0,595.5 L621.5,592.2 L623.0,588.2 L624.5,583.6 L626.0,578.6 L627.5,573.4 L629.0,568.3 L630.5,562.6 L632.0,556.5 L633.5,550.1 L635.0,543.8 L636.5,537.5 L638.0,530.6 L639.5,525.1 L641.0,522.8 L642.5,522.1 L644.0,521.0 L645.5,519.0 L647.0,516.8 L648.5,514.6 L650.0,512.3 L651.5,510.1 L653.0,507.8 L654.5,505.6 L656.0,503.6 L657.5,501.7 L659.0,499.9 L660.5,498.2 L662.0,496.6 L663.5,495.0 L665.0,493.3 L666.5,491.6 L668.0,489.9 L669.5,488.0 L671.0,486.0 L672.5,483.8 L674.0,481.4 L675.5,478.9 L677.0,476.4 L678.5,473.7 L680.0,471.1 L681.5,468.5 L683.0,466.0 L684.5,463.5 L686.0,461.2 L687.5,458.9 L689.0,456.5 L690.5,454.1 L692.0,451.7 L693.5,449.4 L695.0,447.3 L696.5,445.3 L698.0,443.6 L699.5,442.3 L701.0,441.3 L702.5,440.7 L704.0,440.7 L705.5,441.1 L707.0,441.8 L708.5,442.9 L710.0,444.1 L711.5,445.5 L713.0,447.0 L714.5,448.4 L716.0,449.8 L717.5,450.9 L719.0,451.8 L720.5,452.4 L722.0,452.6 L723.5,452.4 L725.0,451.7 L726.5,450.7 L728.0,449.4 L729.5,447.8 L731.0,446.1 L732.5,444.1 L734.0,442.1 L735.5,439.9 L737.0,437.8 L738.5,435.6 L740.0,433.4 L741.5,431.1 L743.0,428.7 L744.5,426.0 L746.0,423.2 L747.5,420.3 L749.0,417.2 L750.5,413.9 L752.0,410.5 L753.5,407.1 L755.0,403.5 L756.5,399.7 L758.0,395.8 L759.5,391.5 L761.0,387.0 L762.5,382.3 L764.0,377.4 L765.5,372.4 L767.0,367.2 L768.5,362.1 L770.0,356.9 L771.5,351.7 L773.0,346.6 L774.5,341.3 L776.0,335.8 L777.5,330.1 L779.0,324.3 L780.5,318.4 L782.0,312.7 L783.5,307.1 L785.0,301.7 L786.5,296.6 L788.0,291.9 L789.5,287.6 L791.0,283.6 L792.5,279.8 L794.0,276.1 L795.5,272.7 L797.0,269.4 L798.5,266.3 L800.0,263.3 L801.5,260.6 L803.0,258.0 L804.5,255.5 L806.0,253.0 L807.5,250.7 L809.0,248.4 L810.5,246.1 L812.0,243.9 L813.5,241.6 L815.0,239.4 L816.5,237.2 L818.0,235.0 L819.5,232.8 L821.0,230.5 L822.5,228.2 L824.0,225.9 L825.5,223.4 L827.0,221.0 L828.5,218.5 L830.0,216.1 L831.5,213.6 L833.0,211.3 L834.5,209.0 L836.0,206.8 L837.5,204.7 L839.0,202.7 L840.5,200.9 L842.0,199.0 L843.5,197.3 L845.0,195.6 L846.5,194.2 L848.0,192.9 L849.5,191.9 L851.0,191.3 L852.5,190.9 L854.0,191.1 L855.5,191.8 L857.0,192.9 L858.5,194.3 L860.0,196.0 L861.5,198.0 L863.0,200.1 L864.5,202.3 L866.0,204.5 L867.5,207.1 L869.0,210.0 L870.5,213.1 L872.0,216.4 L873.5,219.8 L875.0,223.3 L876.5,226.9 L878.0,230.5 L879.5,234.0 L881.0,237.4 L882.5,240.8 L884.0,244.3 L885.5,247.8 L887.0,251.5 L888.5,255.2 L890.0,258.8 L891.5,262.4 L893.0,265.8 L894.5,269.0 L896.0,272.0 L897.5,274.8 L899.0,277.2 L900.5,279.7 L902.0,282.0 L903.5,284.3 L905.0,286.5 L906.5,288.5 L908.0,290.3 L909.5,291.9 L911.0,293.3 L912.5,294.4 L914.0,295.2 L915.5,295.7 L917.0,296.1 L918.5,296.5 L920.0,296.8 L921.5,297.1 L923.0,297.2 L924.5,297.3 L926.0,297.2 L927.5,297.1 L929.0,296.8 L930.5,296.4 L932.0,296.0 L933.5,295.4 L935.0,294.8 L936.5,294.2 L938.0,293.5 L939.5,292.7 L941.0,292.0 L942.5,291.2 L944.0,290.2 L945.5,289.1 L947.0,287.8 L948.5,286.4 L950.0,284.9 L951.5,283.3 L953.0,281.6 L954.5,279.8 L956.0,277.9 L957.5,276.0 L959.0,273.9 L960.5,271.5 L962.0,268.8 L963.5,265.9 L965.0,262.8 L966.5,259.5 L968.0,256.2 L969.5,252.8 L971.0,249.4 L972.5,245.9 L974.0,242.6 L975.5,239.3 L977.0,235.9 L978.5,232.4 L980.0,228.9 L981.5,225.4 L983.0,221.8 L984.5,218.2 L986.0,214.6 L987.5,211.0 L989.0,207.3 L990.5,203.7 L992.0,200.0 L993.5,196.0 L995.0,191.9 L996.5,187.6 L998.0,183.4 L999.5,179.2 L1001.0,175.2 L1002.5,171.5 L1004.0,168.2 L1005.5,165.3 L1007.0,163.0 L1008.5,161.1 L1010.0,159.4 L1011.5,157.9 L1013.0,156.7 L1014.5,155.7 L1016.0,155.0 L1017.5,154.7 L1019.0,154.6 L1020.5,155.0 L1022.0,155.6 L1023.5,156.4 L1025.0,157.4 L1026.5,158.6 L1028.0,159.9 L1029.5,161.4 L1031.0,163.0 L1032.5,164.6 L1034.0,166.4 L1035.5,168.2 L1037.0,170.0 L1038.5,172.0 L1040.0,174.3 L1041.5,176.8 L1043.0,179.4 L1044.5,182.1 L1046.0,184.8 L1047.5,187.5 L1049.0,190.1 L1050.5,192.5 L1052.0,194.7 L1053.5,196.6 L1055.0,198.5 L1056.5,200.4 L1058.0,202.2 L1059.5,203.8 L1061.0,205.4 L1062.5,206.7 L1064.0,207.8 L1065.5,208.7 L1067.0,209.2 L1068.5,209.7 L1070.0,210.1 L1071.5,210.6 L1073.0,211.0 L1074.5,211.4 L1076.0,211.8 L1077.5,212.1 L1079.0,212.4 L1080.5,212.6 L1082.0,212.7 L1083.5,212.8 L1085.0,212.7 L1086.5,212.5 L1088.0,212.3 L1089.5,212.1 L1091.0,211.8 L1092.5,211.5 L1094.0,211.2 L1095.5,210.9 L1097.0,210.6 L1098.5,210.3 L1100.0,210.0 L1101.5,209.7 L1103.0,209.5 L1104.5,209.2 L1106.0,209.0 L1107.5,208.8 L1109.0,208.6 L1110.5,208.5 L1112.0,208.3 L1113.5,208.2 L1115.0,208.1 L1116.5,207.9 L1118.0,207.9 L1119.5,207.8 L1121.0,207.7 L1122.5,207.7 L1124.0,207.6 L1125.5,207.6 L1127.0,207.6 L1128.5,207.6 L1130.0,207.6 L1131.5,207.6 L1133.0,207.6 L1134.5,207.7 L1136.0,207.7 L1137.5,207.9 L1139.0,208.2 L1140.5,208.7 L1142.0,209.4 L1143.5,210.1 L1145.0,211.0 L1146.5,212.0 L1148.0,213.0 L1149.5,214.0 L1151.0,215.0 L1152.5,216.1 L1154.0,217.2 L1155.5,218.5 L1157.0,219.9 L1158.5,221.6 L1160.0,223.3 L1161.5,225.2 L1163.0,227.1 L1164.5,229.2 L1166.0,231.3 L1167.5,233.5 L1169.0,235.8 L1170.5,238.2 L1172.0,240.8 L1173.5,243.6 L1175.0,246.5 L1176.5,249.5 L1178.0,252.7 L1179.5,255.9 L1181.0,259.1 L1182.5,262.4 L1184.0,265.6 L1185.5,268.8 L1187.0,272.0 L1188.5,275.1 L1190.0,278.3 L1191.5,281.6 L1193.0,284.8 L1194.5,288.1 L1196.0,291.4 L1197.5,294.8 L1199.0,298.2 L1200.5,301.6 L1202.0,305.0 L1203.5,308.5 L1205.0,312.1 L1206.5,315.7 L1208.0,319.4 L1209.5,323.1 L1211.0,326.8 L1212.5,330.6 L1214.0,334.3 L1215.5,337.9 L1217.0,341.5 L1218.5,345.0 L1220.0,348.5 L1221.5,351.9 L1223.0,355.3 L1224.5,358.7 L1226.0,362.1 L1227.5,365.4 L1229.0,368.7 L1230.5,372.0 L1232.0,375.3 L1233.5,378.5 L1235.0,381.7 L1236.5,384.9 L1238.0,388.0 L1239.5,391.1 L1241.0,394.2 L1242.5,397.3 L1244.0,400.4 L1245.5,403.4 L1247.0,406.5 L1248.5,409.4 L1250.0,412.4 L1251.5,415.3 L1253.0,418.2 L1254.5,421.1 L1256.0,423.9 L1257.5,426.6 L1259.0,429.3 L1260.5,432.0 L1262.0,434.7 L1263.5,437.4 L1265.0,440.0 L1266.5,442.6 L1268.0,445.2 L1269.5,447.7 L1271.0,450.2 L1272.5,452.6 L1274.0,454.9 L1275.5,457.1 L1277.0,459.2 L1278.5,461.3 L1280.0,463.2 L1281.5,465.1 L1283.0,467.0 L1284.5,468.8 L1286.0,470.5 L1287.5,472.3 L1289.0,474.0 L1290.5,475.6 L1292.0,477.3 L1293.5,478.9 L1295.0,480.5 L1296.5,482.2 L1298.0,483.8 L1299.5,485.4 L1301.0,487.0 L1302.5,488.6 L1304.0,490.2 L1305.5,491.8 L1307.0,493.4 L1308.5,495.0 L1310.0,496.6 L1311.5,498.1 L1313.0,499.7 L1314.5,501.2 L1316.0,502.8 L1317.5,504.3 L1319.0,505.9 L1320.5,507.4 L1322.0,509.0 L1323.5,510.5 L1325.0,512.0 L1326.5,513.5 L1328.0,515.1 L1329.5,516.6 L1331.0,518.1 L1332.5,519.6 L1334.0,521.1 L1335.5,522.6 L1337.0,524.1 L1338.5,525.6 L1340.0,527.1 L1341.5,528.5 L1343.0,530.0 L1344.5,531.5 L1346.0,533.0 L1347.5,534.5 L1349.0,535.9 L1350.5,537.4 L1352.0,538.9 L1353.5,540.4 L1355.0,541.9 L1356.5,543.3 L1358.0,544.8 L1359.5,546.2 L1361.0,547.6 L1362.5,549.0 L1364.0,550.4 L1365.5,551.7 L1367.0,553.0 L1368.5,554.3 L1370.0,555.5 L1371.5,556.8 L1373.0,558.0 L1374.5,559.2 L1376.0,560.4 L1377.5,561.6 L1379.0,562.8 L1380.5,563.9 L1382.0,565.1 L1383.5,566.2 L1385.0,567.3 L1386.5,568.4 L1388.0,569.4 L1389.5,570.5 L1391.0,571.5 L1392.5,572.5 L1394.0,573.4 L1395.5,574.4 L1397.0,575.4 L1398.5,576.3 L1400.0,577.3 L1401.5,578.2 L1403.0,579.2 L1404.5,580.1 L1406.0,581.0 L1407.5,581.9 L1409.0,582.7 L1410.5,583.5 L1412.0,584.3 L1413.5,585.0 L1415.0,585.7 L1416.5,586.3 L1418.0,586.8 L1419.5,587.3 L1421.0,587.8 L1422.5,588.3 L1424.0,588.7 L1425.5,589.2 L1427.0,589.6 L1428.5,590.0 L1430.0,590.4 L1431.5,590.8 L1433.0,591.2 L1434.5,591.5 L1436.0,591.8 L1437.5,592.1 L1439.0,592.4 L1440.5,592.6 L1442.0,592.9 L1443.5,593.1 L1445.0,593.3 L1446.5,593.5 L1448.0,593.6 L1449.5,593.8 L1451.0,594.0 L1452.5,594.2 L1454.0,594.4 L1455.5,594.6 L1457.0,594.7 L1458.5,594.9 L1460.0,595.0 L1461.5,595.1 L1463.0,595.2 L1464.5,595.3 L1466.0,595.4 L1467.5,595.5 L1469.0,595.5 L1470.5,595.6 L1472.0,595.6 L1473.5,595.6 L1475.0,595.6 L1476.5,595.5 L1478.0,595.5 L1479.5,595.4 L1481.0,595.4 L1482.5,595.3 L1484.0,595.2 L1485.5,595.1 L1487.0,594.9 L1488.5,594.8 L1490.0,594.6 L1491.5,594.4 L1493.0,594.2 L1494.5,594.0 L1496.0,593.7 L1497.5,593.4 L1499.0,593.1 L1500.5,592.7 L1502.0,592.3 L1503.5,591.9 L1505.0,591.4 L1506.5,591.0 L1508.0,590.6 L1509.5,590.1 L1511.0,589.7 L1512.5,589.2 L1514.0,588.8 L1515.5,588.4 L1517.0,588.0 L1518.5,587.6 L1520.0,587.3 L1521.5,586.9 L1523.0,586.6 L1524.5,586.2 L1526.0,585.9 L1527.5,585.5 L1529.0,585.2 L1530.5,584.8 L1532.0,584.5 L1533.5,584.1 L1535.0,583.8 L1536.5,583.4 L1538.0,583.0 L1539.5,582.7 L1541.0,582.3 L1542.5,581.9 L1544.0,581.5 L1545.5,581.0 L1547.0,580.6 L1548.5,580.1 L1550.0,579.7 L1551.5,579.2 L1553.0,578.8 L1554.5,578.3 L1556.0,577.8 L1557.5,577.3 L1559.0,576.9 L1560.5,576.4 L1562.0,576.0 L1563.5,575.5 L1565.0,575.1 L1566.5,574.7 L1568.0,574.2 L1569.5,573.8 L1571.0,573.5 L1572.5,573.1 L1574.0,572.7 L1575.5,572.3 L1577.0,571.9 L1578.5,571.6 L1580.0,571.2 L1581.5,570.8 L1583.0,570.5 L1584.5,570.1 L1586.0,569.7 L1587.5,569.3 L1589.0,568.9 L1590.5,568.5 L1592.0,568.1 L1593.5,567.7 L1595.0,567.2 L1596.5,566.8 L1598.0,566.3 L1599.5,565.9 L1601.0,565.4 L1602.5,564.9 L1604.0,564.5 L1605.5,564.0 L1607.0,563.5 L1608.5,563.1 L1610.0,562.6 L1611.5,562.2 L1613.0,561.8 L1614.5,561.4 L1616.0,561.0 L1617.5,560.6 L1619.0,560.3 L1620.5,559.9 L1622.0,559.6 L1623.5,559.2 L1625.0,558.9 L1626.5,558.5 L1628.0,558.2 L1629.5,557.8 L1631.0,557.5 L1632.5,557.2 L1634.0,556.9 L1635.5,556.6 L1637.0,556.3 L1638.5,556.0 L1640.0,555.8 L1641.5,555.5 L1643.0,555.3 L1644.5,555.0 L1646.0,554.8" stroke="#ff0000" stroke-width="10"/>
</g>
<line x1="633.5" y1="144" x2="633.5" y2="1117" stroke="#0000ff" stroke-width="5" stroke-dasharray="17 13.65"/>
<line x1="915.0" y1="158" x2="915.0" y2="1117" stroke="#0000ff" stroke-width="4" stroke-dasharray="17 13.65"/>
<line x1="1345.0" y1="390" x2="1345.0" y2="1117" stroke="#0000ff" stroke-width="4" stroke-dasharray="17 13.65"/>
<line x1="1155" y1="99" x2="1269" y2="99" stroke="#ff0000" stroke-width="8" stroke-linecap="round"/>
<line x1="1155" y1="162" x2="1269" y2="162" stroke="#000" stroke-width="8" stroke-linecap="round"/>
<line x1="1155" y1="225" x2="1269" y2="225" stroke="#00dd00" stroke-width="8" stroke-linecap="round"/>
<rect x="341.0" y="1138.5" width="1308.0" height="1059.0" fill="none" stroke="#000" stroke-width="11.5"/>
<g fill="#000"><rect x="444.5" y="2183.8" width="11" height="10"/><rect x="444.5" y="1142.2" width="11" height="10"/><rect x="553.0" y="2170.8" width="12" height="23"/><rect x="553.0" y="1142.2" width="12" height="23"/><rect x="662.5" y="2183.8" width="11" height="10"/><rect x="662.5" y="1142.2" width="11" height="10"/><rect x="771.0" y="2170.8" width="12" height="23"/><rect x="771.0" y="1142.2" width="12" height="23"/><rect x="880.5" y="2183.8" width="11" height="10"/><rect x="880.5" y="1142.2" width="11" height="10"/><rect x="989.0" y="2170.8" width="12" height="23"/><rect x="989.0" y="1142.2" width="12" height="23"/><rect x="1098.5" y="2183.8" width="11" height="10"/><rect x="1098.5" y="1142.2" width="11" height="10"/><rect x="1207.0" y="2170.8" width="12" height="23"/><rect x="1207.0" y="1142.2" width="12" height="23"/><rect x="1316.5" y="2183.8" width="11" height="10"/><rect x="1316.5" y="1142.2" width="11" height="10"/><rect x="1425.0" y="2170.8" width="12" height="23"/><rect x="1425.0" y="1142.2" width="12" height="23"/><rect x="1534.5" y="2183.8" width="11" height="10"/><rect x="1534.5" y="1142.2" width="11" height="10"/><rect x="345.8" y="1284.2" width="6" height="11"/><rect x="345.8" y="1435.5" width="16" height="11"/><rect x="345.8" y="1586.8" width="6" height="11"/><rect x="345.8" y="1738.0" width="16" height="11"/><rect x="345.8" y="1889.2" width="6" height="11"/><rect x="345.8" y="2040.5" width="16" height="11"/></g>
<g fill="none" stroke-linejoin="round" stroke-linecap="butt">
<path d="M341.5,1440.0 L342.5,1446.2 L343.5,1451.5 L344.5,1455.9 L345.5,1459.4 L346.5,1462.1 L347.5,1464.1 L348.5,1465.3 L349.5,1465.9 L350.5,1465.6 L351.5,1463.0 L352.5,1458.4 L353.5,1452.6 L354.5,1446.2 L355.5,1440.0 L356.5,1434.7 L357.5,1431.0 L358.5,1429.6 L359.5,1430.8 L360.5,1433.9 L361.5,1438.5 L362.5,1444.1 L363.5,1450.2 L364.5,1456.3 L365.5,1461.8 L366.5,1466.3 L367.5,1469.3 L368.5,1470.2 L369.5,1468.1 L370.5,1463.1 L371.5,1455.9 L372.5,1447.0 L373.5,1437.2 L374.5,1427.0 L375.5,1417.3 L376.5,1408.5 L377.5,1401.4 L378.5,1396.7 L379.5,1395.0 L380.5,1397.7 L381.5,1405.2 L382.5,1416.1 L383.5,1429.4 L384.5,1443.7 L385.5,1458.0 L386.5,1471.1 L387.5,1481.7 L388.5,1488.8 L389.5,1491.0 L390.5,1487.6 L391.5,1479.4 L392.5,1467.7 L393.5,1453.7 L394.5,1438.7 L395.5,1424.0 L396.5,1410.8 L397.5,1400.4 L398.5,1393.9 L399.5,1392.8 L400.5,1397.1 L401.5,1406.0 L402.5,1418.0 L403.5,1432.1 L404.5,1447.0 L405.5,1461.4 L406.5,1474.2 L407.5,1484.1 L408.5,1490.0 L409.5,1490.3 L410.5,1483.1 L411.5,1469.9 L412.5,1452.6 L413.5,1433.4 L414.5,1414.2 L415.5,1397.3 L416.5,1384.5 L417.5,1378.1 L418.5,1378.6 L419.5,1382.8 L420.5,1389.9 L421.5,1399.1 L422.5,1409.9 L423.5,1421.6 L424.5,1433.5 L425.5,1445.1 L426.5,1455.6 L427.5,1464.4 L428.5,1470.9 L429.5,1474.5 L430.5,1474.5 L431.5,1471.2 L432.5,1465.1 L433.5,1457.1 L434.5,1447.6 L435.5,1437.5 L436.5,1427.4 L437.5,1417.9 L438.5,1409.9 L439.5,1403.8 L440.5,1400.5 L441.5,1400.6 L442.5,1404.7 L443.5,1412.3 L444.5,1422.4 L445.5,1434.2 L446.5,1446.8 L447.5,1459.4 L448.5,1471.2 L449.5,1481.3 L450.5,1488.9 L451.5,1493.0 L452.5,1493.2 L453.5,1490.4 L454.5,1485.4 L455.5,1478.6 L456.5,1470.7 L457.5,1462.3 L458.5,1453.9 L459.5,1446.0 L460.5,1439.2 L461.5,1434.2 L462.5,1431.4 L463.5,1431.4 L464.5,1434.6 L465.5,1440.0 L466.5,1446.9 L467.5,1454.1 L468.5,1461.0 L469.5,1466.4 L470.5,1469.6 L471.5,1469.6 L472.5,1466.3 L473.5,1460.6 L474.5,1453.2 L475.5,1445.0 L476.5,1436.8 L477.5,1429.4 L478.5,1423.7 L479.5,1420.4 L480.5,1420.5 L481.5,1424.2 L482.5,1430.9 L483.5,1439.6 L484.5,1449.6 L485.5,1459.9 L486.5,1469.9 L487.5,1478.6 L488.5,1485.3 L489.5,1489.0 L490.5,1488.8 L491.5,1483.5 L492.5,1474.1 L493.5,1462.1 L494.5,1448.8 L495.5,1435.4 L496.5,1423.4 L497.5,1414.0 L498.5,1408.7 L499.5,1408.9 L500.5,1415.5 L501.5,1426.9 L502.5,1441.5 L503.5,1457.4 L504.5,1472.9 L505.5,1487.2 L506.5,1503.7 L507.5,1520.4 L508.5,1534.7 L509.5,1544.6 L510.5,1553.5 L511.5,1560.3 L512.5,1563.0 L513.5,1561.8 L514.5,1558.8 L515.5,1555.2 L516.5,1552.2 L517.5,1551.0 L518.5,1551.3 L519.5,1552.3 L520.5,1553.9 L521.5,1556.0 L522.5,1562.7 L523.5,1575.9 L524.5,1592.0 L525.5,1607.9 L526.5,1625.2 L527.5,1646.8 L528.5,1678.0 L529.5,1723.6 L530.5,1790.0 L531.5,1826.0 L532.5,1850.0 L533.5,1868.9 L534.5,1884.4 L535.5,1898.2 L536.5,1912.4 L537.5,1928.7 L538.5,1942.3 L539.5,1948.0 L540.5,1941.0 L541.5,1924.8 L542.5,1907.1 L543.5,1894.0 L544.5,1882.1 L545.5,1871.0 L546.5,1861.2 L547.5,1853.3 L548.5,1846.9 L549.5,1841.4 L550.5,1836.0 L551.5,1829.7 L552.5,1822.3 L553.5,1814.1 L554.5,1801.0 L555.5,1764.0 L556.5,1727.0 L557.5,1690.0 L558.5,1650.0 L559.5,1623.8 L560.5,1607.4 L561.5,1595.1 L562.5,1585.2 L563.5,1576.3 L564.5,1568.6 L565.5,1562.4 L566.5,1557.8 L567.5,1553.7 L568.5,1550.3 L569.5,1548.3 L570.5,1548.2 L571.5,1549.7 L572.5,1552.0 L573.5,1554.0 L574.5,1555.0 L575.5,1548.2 L576.5,1527.4 L577.5,1496.9 L578.5,1461.1 L579.5,1424.4 L580.5,1391.3 L581.5,1366.1 L582.5,1353.2 L583.5,1353.3 L584.5,1357.3 L585.5,1364.0 L586.5,1372.8 L587.5,1383.0 L588.5,1394.0 L589.5,1405.2 L590.5,1416.0 L591.5,1425.7 L592.5,1433.7 L593.5,1439.5 L594.5,1442.2 L595.5,1441.2 L596.5,1435.7 L597.5,1426.8 L598.5,1415.5 L599.5,1402.7 L600.5,1389.5 L601.5,1376.9 L602.5,1366.0 L603.5,1357.7 L604.5,1353.0 L605.5,1353.2 L606.5,1359.4 L607.5,1370.4 L608.5,1384.6 L609.5,1400.5 L610.5,1416.7 L611.5,1431.5 L612.5,1443.6 L613.5,1451.4 L614.5,1453.4 L615.5,1451.0 L616.5,1445.8 L617.5,1438.2 L618.5,1428.9 L619.5,1418.7 L620.5,1408.0 L621.5,1397.6 L622.5,1387.9 L623.5,1379.8 L624.5,1373.8 L625.5,1370.4 L626.5,1370.6 L627.5,1375.1 L628.5,1383.3 L629.5,1394.2 L630.5,1407.1 L631.5,1421.0 L632.5,1435.1 L633.5,1448.4 L634.5,1460.3 L635.5,1469.6 L636.5,1475.7 L637.5,1477.6 L638.5,1475.2 L639.5,1469.4 L640.5,1460.9 L641.5,1450.6 L642.5,1439.1 L643.5,1427.3 L644.5,1415.9 L645.5,1405.7 L646.5,1397.5 L647.5,1392.0 L648.5,1390.0 L649.5,1392.2 L650.5,1398.2 L651.5,1407.2 L652.5,1418.3 L653.5,1430.7 L654.5,1443.5 L655.5,1456.0 L656.5,1467.3 L657.5,1476.5 L658.5,1482.9 L659.5,1485.5 L660.5,1484.4 L661.5,1481.2 L662.5,1476.7 L663.5,1471.9 L664.5,1467.9 L665.5,1465.4 L666.5,1465.2 L667.5,1466.3 L668.5,1468.5 L669.5,1471.6 L670.5,1475.4 L671.5,1479.9 L672.5,1484.8 L673.5,1490.2 L674.5,1495.7 L675.5,1501.3 L676.5,1506.9 L677.5,1512.4 L678.5,1517.5 L679.5,1522.2 L680.5,1526.3 L681.5,1529.7 L682.5,1532.2 L683.5,1533.8 L684.5,1534.3 L685.5,1532.2 L686.5,1527.7 L687.5,1521.7 L688.5,1515.5 L689.5,1510.2 L690.5,1507.1 L691.5,1507.2 L692.5,1511.8 L693.5,1519.8 L694.5,1530.1 L695.5,1541.6 L696.5,1553.1 L697.5,1563.4 L698.5,1571.4 L699.5,1576.0 L700.5,1576.0 L701.5,1571.3 L702.5,1563.0 L703.5,1552.3 L704.5,1540.1 L705.5,1527.7 L706.5,1516.1 L707.5,1506.5 L708.5,1499.8 L709.5,1497.4 L710.5,1499.3 L711.5,1504.5 L712.5,1511.8 L713.5,1520.4 L714.5,1529.1 L715.5,1537.1 L716.5,1543.2 L717.5,1546.6 L718.5,1546.5 L719.5,1544.0 L720.5,1539.6 L721.5,1533.6 L722.5,1526.4 L723.5,1518.4 L724.5,1509.8 L725.5,1501.1 L726.5,1492.5 L727.5,1484.5 L728.5,1477.3 L729.5,1471.3 L730.5,1466.9 L731.5,1464.4 L732.5,1464.4 L733.5,1468.3 L734.5,1475.8 L735.5,1485.8 L736.5,1497.5 L737.5,1510.0 L738.5,1522.3 L739.5,1533.5 L740.5,1542.6 L741.5,1548.7 L742.5,1551.0 L743.5,1548.1 L744.5,1539.9 L745.5,1527.8 L746.5,1512.6 L747.5,1495.6 L748.5,1477.8 L749.5,1460.3 L750.5,1444.3 L751.5,1430.8 L752.5,1420.9 L753.5,1415.8 L754.5,1415.6 L755.5,1417.4 L756.5,1420.6 L757.5,1425.1 L758.5,1430.6 L759.5,1437.0 L760.5,1443.9 L761.5,1451.4 L762.5,1459.0 L763.5,1466.7 L764.5,1474.2 L765.5,1481.4 L766.5,1488.0 L767.5,1493.9 L768.5,1498.8 L769.5,1502.6 L770.5,1505.0 L771.5,1505.8 L772.5,1504.7 L773.5,1501.9 L774.5,1498.0 L775.5,1494.0 L776.5,1490.4 L777.5,1488.0 L778.5,1487.5 L779.5,1489.9 L780.5,1494.5 L781.5,1500.6 L782.5,1507.4 L783.5,1514.1 L784.5,1520.0 L785.5,1524.2 L786.5,1526.0 L787.5,1524.7 L788.5,1520.8 L789.5,1515.3 L790.5,1509.3 L791.5,1503.7 L792.5,1499.6 L793.5,1498.0 L794.5,1501.1 L795.5,1509.5 L796.5,1521.8 L797.5,1536.5 L798.5,1552.2 L799.5,1567.4 L800.5,1580.9 L801.5,1591.0 L802.5,1596.4 L803.5,1596.0 L804.5,1590.8 L805.5,1582.2 L806.5,1571.4 L807.5,1559.6 L808.5,1548.0 L809.5,1537.9 L810.5,1530.5 L811.5,1527.1 L812.5,1529.0 L813.5,1536.3 L814.5,1547.7 L815.5,1561.7 L816.5,1577.0 L817.5,1592.1 L818.5,1605.7 L819.5,1616.3 L820.5,1623.1 L821.5,1628.6 L822.5,1632.0 L823.5,1633.8 L824.5,1635.3 L825.5,1636.7 L826.5,1637.8 L827.5,1638.7 L828.5,1639.4 L829.5,1639.8 L830.5,1640.0 L831.5,1639.7 L832.5,1638.7 L833.5,1637.3 L834.5,1635.5 L835.5,1633.7 L836.5,1631.9 L837.5,1630.5 L838.5,1629.5 L839.5,1629.2 L840.5,1631.6 L841.5,1637.1 L842.5,1644.8 L843.5,1653.8 L844.5,1663.1 L845.5,1671.7 L846.5,1678.7 L847.5,1683.0 L848.5,1683.7 L849.5,1679.3 L850.5,1670.3 L851.5,1657.9 L852.5,1643.1 L853.5,1627.1 L854.5,1611.0 L855.5,1595.9 L856.5,1582.9 L857.5,1573.1 L858.5,1567.7 L859.5,1567.9 L860.5,1574.8 L861.5,1587.0 L862.5,1602.8 L863.5,1620.7 L864.5,1638.9 L865.5,1656.0 L866.5,1670.2 L867.5,1679.9 L868.5,1683.5 L869.5,1680.9 L870.5,1673.8 L871.5,1663.3 L872.5,1650.3 L873.5,1635.9 L874.5,1621.1 L875.5,1606.8 L876.5,1594.3 L877.5,1584.3 L878.5,1578.1 L879.5,1576.5 L880.5,1580.9 L881.5,1590.4 L882.5,1603.6 L883.5,1619.0 L884.5,1635.2 L885.5,1650.7 L886.5,1664.2 L887.5,1674.1 L888.5,1679.1 L889.5,1677.8 L890.5,1670.4 L891.5,1658.4 L892.5,1643.1 L893.5,1626.0 L894.5,1608.4 L895.5,1591.6 L896.5,1577.2 L897.5,1566.4 L898.5,1560.7 L899.5,1561.3 L900.5,1567.5 L901.5,1577.9 L902.5,1590.9 L903.5,1605.1 L904.5,1619.0 L905.5,1631.1 L906.5,1639.9 L907.5,1644.1 L908.5,1642.9 L909.5,1638.3 L910.5,1631.4 L911.5,1623.4 L912.5,1615.5 L913.5,1608.8 L914.5,1604.5 L915.5,1603.6 L916.5,1605.9 L917.5,1610.4 L918.5,1616.0 L919.5,1622.1 L920.5,1627.5 L921.5,1631.6 L922.5,1633.4 L923.5,1632.4 L924.5,1629.3 L925.5,1625.2 L926.5,1620.9 L927.5,1617.5 L928.5,1615.8 L929.5,1616.0 L930.5,1616.9 L931.5,1618.1 L932.5,1619.4 L933.5,1620.6 L934.5,1621.2 L935.5,1620.5 L936.5,1617.6 L937.5,1613.0 L938.5,1607.6 L939.5,1602.2 L940.5,1597.6 L941.5,1594.7 L942.5,1594.2 L943.5,1597.6 L944.5,1604.4 L945.5,1613.5 L946.5,1623.8 L947.5,1634.2 L948.5,1643.6 L949.5,1650.9 L950.5,1655.1 L951.5,1655.1 L952.5,1650.8 L953.5,1643.2 L954.5,1633.2 L955.5,1622.0 L956.5,1610.5 L957.5,1599.8 L958.5,1590.9 L959.5,1584.8 L960.5,1582.5 L961.5,1584.1 L962.5,1588.0 L963.5,1593.4 L964.5,1599.2 L965.5,1604.4 L966.5,1608.0 L967.5,1609.0 L968.5,1608.6 L969.5,1607.9 L970.5,1607.1 L971.5,1606.4 L972.5,1606.0 L973.5,1606.7 L974.5,1609.1 L975.5,1612.5 L976.5,1616.4 L977.5,1619.9 L978.5,1622.4 L979.5,1623.3 L980.5,1620.8 L981.5,1614.8 L982.5,1606.5 L983.5,1596.8 L984.5,1586.8 L985.5,1577.5 L986.5,1570.0 L987.5,1565.3 L988.5,1564.4 L989.5,1568.1 L990.5,1575.4 L991.5,1585.3 L992.5,1596.8 L993.5,1608.8 L994.5,1620.1 L995.5,1629.9 L996.5,1636.9 L997.5,1640.1 L998.5,1638.9 L999.5,1634.1 L1000.5,1627.0 L1001.5,1618.9 L1002.5,1610.9 L1003.5,1604.4 L1004.5,1600.5 L1005.5,1600.4 L1006.5,1603.7 L1007.5,1609.9 L1008.5,1618.3 L1009.5,1628.5 L1010.5,1640.0 L1011.5,1652.2 L1012.5,1664.6 L1013.5,1676.8 L1014.5,1688.2 L1015.5,1698.2 L1016.5,1706.5 L1017.5,1712.3 L1018.5,1715.3 L1019.5,1715.2 L1020.5,1712.9 L1021.5,1709.0 L1022.5,1703.8 L1023.5,1697.6 L1024.5,1690.9 L1025.5,1684.0 L1026.5,1677.3 L1027.5,1671.1 L1028.5,1665.9 L1029.5,1662.0 L1030.5,1659.7 L1031.5,1659.6 L1032.5,1663.0 L1033.5,1669.1 L1034.5,1676.9 L1035.5,1685.4 L1036.5,1693.5 L1037.5,1700.2 L1038.5,1704.5 L1039.5,1705.2 L1040.5,1700.8 L1041.5,1691.9 L1042.5,1679.5 L1043.5,1664.8 L1044.5,1648.9 L1045.5,1632.8 L1046.5,1617.8 L1047.5,1604.8 L1048.5,1595.1 L1049.5,1589.7 L1050.5,1589.7 L1051.5,1595.2 L1052.5,1604.8 L1053.5,1617.3 L1054.5,1631.4 L1055.5,1645.9 L1056.5,1659.3 L1057.5,1670.6 L1058.5,1678.3 L1059.5,1681.1 L1060.5,1680.3 L1061.5,1678.1 L1062.5,1674.8 L1063.5,1670.8 L1064.5,1666.2 L1065.5,1661.6 L1066.5,1657.1 L1067.5,1653.1 L1068.5,1649.9 L1069.5,1647.9 L1070.5,1647.2 L1071.5,1648.6 L1072.5,1652.1 L1073.5,1657.3 L1074.5,1663.7 L1075.5,1670.8 L1076.5,1678.4 L1077.5,1686.0 L1078.5,1693.1 L1079.5,1699.4 L1080.5,1704.4 L1081.5,1707.7 L1082.5,1708.9 L1083.5,1706.6 L1084.5,1700.5 L1085.5,1691.4 L1086.5,1680.2 L1087.5,1668.1 L1088.5,1655.8 L1089.5,1644.4 L1090.5,1634.8 L1091.5,1628.0 L1092.5,1624.9 L1093.5,1626.9 L1094.5,1634.6 L1095.5,1646.4 L1096.5,1660.7 L1097.5,1676.0 L1098.5,1690.7 L1099.5,1703.1 L1100.5,1711.8 L1101.5,1715.0 L1102.5,1712.7 L1103.5,1706.5 L1104.5,1697.2 L1105.5,1685.8 L1106.5,1673.1 L1107.5,1660.1 L1108.5,1647.6 L1109.5,1636.5 L1110.5,1627.8 L1111.5,1622.3 L1112.5,1620.9 L1113.5,1622.9 L1114.5,1627.4 L1115.5,1633.5 L1116.5,1640.7 L1117.5,1648.3 L1118.5,1655.6 L1119.5,1661.9 L1120.5,1666.5 L1121.5,1668.9 L1122.5,1668.7 L1123.5,1667.2 L1124.5,1664.6 L1125.5,1661.2 L1126.5,1657.1 L1127.5,1652.5 L1128.5,1647.6 L1129.5,1642.6 L1130.5,1637.6 L1131.5,1632.8 L1132.5,1628.4 L1133.5,1624.7 L1134.5,1621.7 L1135.5,1619.6 L1136.5,1618.7 L1137.5,1620.2 L1138.5,1625.9 L1139.5,1634.9 L1140.5,1646.1 L1141.5,1658.6 L1142.5,1671.3 L1143.5,1683.2 L1144.5,1693.4 L1145.5,1700.9 L1146.5,1704.6 L1147.5,1703.8 L1148.5,1699.2 L1149.5,1691.7 L1150.5,1682.1 L1151.5,1671.3 L1152.5,1660.2 L1153.5,1649.6 L1154.5,1640.3 L1155.5,1633.3 L1156.5,1629.4 L1157.5,1629.0 L1158.5,1629.9 L1159.5,1631.6 L1160.5,1633.9 L1161.5,1636.6 L1162.5,1639.6 L1163.5,1642.7 L1164.5,1645.8 L1165.5,1648.7 L1166.5,1651.2 L1167.5,1653.9 L1168.5,1656.9 L1169.5,1660.0 L1170.5,1663.2 L1171.5,1666.2 L1172.5,1668.9 L1173.5,1671.2 L1174.5,1672.8 L1175.5,1673.6 L1176.5,1673.3 L1177.5,1670.8 L1178.5,1666.7 L1179.5,1661.5 L1180.5,1655.6 L1181.5,1649.7 L1182.5,1644.2 L1183.5,1639.7 L1184.5,1636.7 L1185.5,1635.7 L1186.5,1638.0 L1187.5,1643.2 L1188.5,1650.4 L1189.5,1658.5 L1190.5,1666.6 L1191.5,1673.7 L1192.5,1678.6 L1193.5,1680.5 L1194.5,1679.0 L1195.5,1675.1 L1196.5,1669.5 L1197.5,1663.1 L1198.5,1656.6 L1199.5,1650.9 L1200.5,1646.8 L1201.5,1645.0 L1202.5,1645.8 L1203.5,1648.0 L1204.5,1651.2 L1205.5,1654.6 L1206.5,1657.8 L1207.5,1660.0 L1208.5,1660.8 L1209.5,1659.5 L1210.5,1656.6 L1211.5,1652.3 L1212.5,1647.3 L1213.5,1641.9 L1214.5,1636.7 L1215.5,1632.1 L1216.5,1628.6 L1217.5,1626.6 L1218.5,1626.3 L1219.5,1626.5 L1220.5,1626.9 L1221.5,1627.4 L1222.5,1628.1 L1223.5,1628.9 L1224.5,1629.8 L1225.5,1630.7 L1226.5,1631.8 L1227.5,1632.9 L1228.5,1634.5 L1229.5,1637.1 L1230.5,1640.5 L1231.5,1644.4 L1232.5,1648.5 L1233.5,1652.5 L1234.5,1656.2 L1235.5,1659.2 L1236.5,1661.4 L1237.5,1662.4 L1238.5,1661.4 L1239.5,1657.7 L1240.5,1652.0 L1241.5,1645.1 L1242.5,1637.7 L1243.5,1630.7 L1244.5,1624.7 L1245.5,1620.6 L1246.5,1619.0 L1247.5,1620.5 L1248.5,1624.5 L1249.5,1630.1 L1250.5,1636.6 L1251.5,1643.2 L1252.5,1649.1 L1253.5,1653.5 L1254.5,1655.5 L1255.5,1654.5 L1256.5,1650.5 L1257.5,1644.2 L1258.5,1636.4 L1259.5,1627.9 L1260.5,1619.6 L1261.5,1612.0 L1262.5,1606.1 L1263.5,1602.6 L1264.5,1602.2 L1265.5,1604.2 L1266.5,1607.8 L1267.5,1612.7 L1268.5,1618.3 L1269.5,1624.1 L1270.5,1629.5 L1271.5,1634.1 L1272.5,1637.3 L1273.5,1638.7 L1274.5,1638.1 L1275.5,1636.3 L1276.5,1633.2 L1277.5,1629.3 L1278.5,1624.6 L1279.5,1619.3 L1280.5,1613.6 L1281.5,1607.7 L1282.5,1601.7 L1283.5,1595.9 L1284.5,1590.5 L1285.5,1585.5 L1286.5,1581.2 L1287.5,1577.8 L1288.5,1575.5 L1289.5,1574.4 L1290.5,1575.4 L1291.5,1580.2 L1292.5,1587.9 L1293.5,1597.6 L1294.5,1608.4 L1295.5,1619.1 L1296.5,1629.0 L1297.5,1637.0 L1298.5,1642.1 L1299.5,1643.4 L1300.5,1640.2 L1301.5,1633.2 L1302.5,1623.4 L1303.5,1611.7 L1304.5,1599.2 L1305.5,1586.7 L1306.5,1575.4 L1307.5,1566.0 L1308.5,1559.7 L1309.5,1557.4 L1310.5,1559.7 L1311.5,1565.8 L1312.5,1574.6 L1313.5,1584.9 L1314.5,1595.7 L1315.5,1605.9 L1316.5,1614.2 L1317.5,1619.6 L1318.5,1621.1 L1319.5,1620.2 L1320.5,1618.3 L1321.5,1615.5 L1322.5,1611.9 L1323.5,1607.8 L1324.5,1603.3 L1325.5,1598.6 L1326.5,1593.9 L1327.5,1589.3 L1328.5,1585.1 L1329.5,1581.3 L1330.5,1578.1 L1331.5,1575.8 L1332.5,1574.5 L1333.5,1574.4 L1334.5,1574.9 L1335.5,1575.9 L1336.5,1577.3 L1337.5,1578.9 L1338.5,1580.7 L1339.5,1582.5 L1340.5,1584.1 L1341.5,1585.6 L1342.5,1586.6 L1343.5,1587.2 L1344.5,1586.8 L1345.5,1583.0 L1346.5,1576.4 L1347.5,1567.8 L1348.5,1558.1 L1349.5,1548.3 L1350.5,1539.1 L1351.5,1531.6 L1352.5,1526.6 L1353.5,1525.0 L1354.5,1527.6 L1355.5,1533.9 L1356.5,1543.0 L1357.5,1553.8 L1358.5,1565.6 L1359.5,1577.5 L1360.5,1588.3 L1361.5,1597.4 L1362.5,1603.7 L1363.5,1606.3 L1364.5,1604.6 L1365.5,1599.1 L1366.5,1590.8 L1367.5,1580.6 L1368.5,1569.4 L1369.5,1558.0 L1370.5,1547.4 L1371.5,1538.4 L1372.5,1532.0 L1373.5,1529.1 L1374.5,1529.4 L1375.5,1530.9 L1376.5,1533.4 L1377.5,1536.8 L1378.5,1540.8 L1379.5,1545.4 L1380.5,1550.4 L1381.5,1555.7 L1382.5,1561.0 L1383.5,1566.3 L1384.5,1571.4 L1385.5,1576.1 L1386.5,1580.4 L1387.5,1584.0 L1388.5,1586.7 L1389.5,1588.6 L1390.5,1589.3 L1391.5,1587.9 L1392.5,1583.6 L1393.5,1577.1 L1394.5,1569.1 L1395.5,1560.6 L1396.5,1552.1 L1397.5,1544.5 L1398.5,1538.5 L1399.5,1535.0 L1400.5,1534.8 L1401.5,1539.0 L1402.5,1546.7 L1403.5,1556.7 L1404.5,1567.9 L1405.5,1579.2 L1406.5,1589.2 L1407.5,1596.9 L1408.5,1601.1 L1409.5,1600.8 L1410.5,1596.5 L1411.5,1589.1 L1412.5,1579.4 L1413.5,1568.1 L1414.5,1555.9 L1415.5,1543.5 L1416.5,1531.9 L1417.5,1521.6 L1418.5,1513.4 L1419.5,1508.2 L1420.5,1506.5 L1421.5,1507.0 L1422.5,1508.3 L1423.5,1510.2 L1424.5,1512.6 L1425.5,1515.5 L1426.5,1518.7 L1427.5,1522.1 L1428.5,1525.6 L1429.5,1529.1 L1430.5,1532.4 L1431.5,1535.5 L1432.5,1538.2 L1433.5,1540.4 L1434.5,1542.1 L1435.5,1543.1 L1436.5,1543.2 L1437.5,1541.9 L1438.5,1539.3 L1439.5,1535.7 L1440.5,1531.4 L1441.5,1526.8 L1442.5,1522.2 L1443.5,1518.1 L1444.5,1514.6 L1445.5,1512.2 L1446.5,1511.2 L1447.5,1512.3 L1448.5,1515.8 L1449.5,1521.1 L1450.5,1527.6 L1451.5,1534.6 L1452.5,1541.5 L1453.5,1547.8 L1454.5,1552.7 L1455.5,1555.8 L1456.5,1556.4 L1457.5,1554.2 L1458.5,1549.9 L1459.5,1544.3 L1460.5,1538.2 L1461.5,1532.2 L1462.5,1527.2 L1463.5,1523.9 L1464.5,1523.0 L1465.5,1524.3 L1466.5,1527.1 L1467.5,1531.1 L1468.5,1535.9 L1469.5,1541.3 L1470.5,1547.0 L1471.5,1552.6 L1472.5,1557.7 L1473.5,1562.1 L1474.5,1565.4 L1475.5,1567.3 L1476.5,1567.5 L1477.5,1566.0 L1478.5,1563.0 L1479.5,1558.8 L1480.5,1553.7 L1481.5,1547.9 L1482.5,1541.5 L1483.5,1535.0 L1484.5,1528.4 L1485.5,1522.1 L1486.5,1516.3 L1487.5,1511.3 L1488.5,1507.2 L1489.5,1504.4 L1490.5,1503.1 L1491.5,1503.7 L1492.5,1506.8 L1493.5,1511.9 L1494.5,1518.1 L1495.5,1524.8 L1496.5,1531.4 L1497.5,1537.1 L1498.5,1541.3 L1499.5,1543.2 L1500.5,1542.3 L1501.5,1538.4 L1502.5,1532.4 L1503.5,1524.7 L1504.5,1516.2 L1505.5,1507.5 L1506.5,1499.2 L1507.5,1491.9 L1508.5,1486.5 L1509.5,1483.4 L1510.5,1483.6 L1511.5,1488.2 L1512.5,1496.1 L1513.5,1506.0 L1514.5,1516.7 L1515.5,1526.9 L1516.5,1535.3 L1517.5,1540.6 L1518.5,1541.7 L1519.5,1540.4 L1520.5,1537.7 L1521.5,1534.2 L1522.5,1530.3 L1523.5,1526.6 L1524.5,1523.5 L1525.5,1521.4 L1526.5,1520.8 L1527.5,1522.3 L1528.5,1525.4 L1529.5,1529.5 L1530.5,1533.8 L1531.5,1537.9 L1532.5,1541.0 L1533.5,1542.5 L1534.5,1542.2 L1535.5,1540.9 L1536.5,1539.2 L1537.5,1537.3 L1538.5,1535.6 L1539.5,1534.3 L1540.5,1534.0 L1541.5,1534.7 L1542.5,1536.0 L1543.5,1537.7 L1544.5,1539.5 L1545.5,1540.9 L1546.5,1541.7 L1547.5,1541.4 L1548.5,1539.3 L1549.5,1535.6 L1550.5,1530.9 L1551.5,1525.7 L1552.5,1520.4 L1553.5,1515.5 L1554.5,1511.3 L1555.5,1508.5 L1556.5,1507.5 L1557.5,1509.3 L1558.5,1514.2 L1559.5,1521.2 L1560.5,1529.6 L1561.5,1538.3 L1562.5,1546.5 L1563.5,1553.4 L1564.5,1558.0 L1565.5,1559.5 L1566.5,1556.8 L1567.5,1550.4 L1568.5,1541.4 L1569.5,1531.0 L1570.5,1520.2 L1571.5,1510.3 L1572.5,1502.2 L1573.5,1497.1 L1574.5,1496.0 L1575.5,1496.6 L1576.5,1497.8 L1577.5,1499.4 L1578.5,1501.2 L1579.5,1502.8 L1580.5,1504.3 L1581.5,1505.3 L1582.5,1505.6 L1583.5,1505.1 L1584.5,1503.9 L1585.5,1502.2 L1586.5,1500.1 L1587.5,1497.8 L1588.5,1495.5 L1589.5,1493.4 L1590.5,1491.7 L1591.5,1490.4 L1592.5,1489.8 L1593.5,1490.2 L1594.5,1491.6 L1595.5,1494.0 L1596.5,1497.2 L1597.5,1501.0 L1598.5,1505.2 L1599.5,1509.8 L1600.5,1514.5 L1601.5,1519.2 L1602.5,1523.8 L1603.5,1528.0 L1604.5,1531.8 L1605.5,1534.9 L1606.5,1537.2 L1607.5,1538.5 L1608.5,1538.7 L1609.5,1537.0 L1610.5,1533.4 L1611.5,1528.3 L1612.5,1522.1 L1613.5,1515.3 L1614.5,1508.1 L1615.5,1500.9 L1616.5,1494.2 L1617.5,1488.4 L1618.5,1483.7 L1619.5,1480.6 L1620.5,1479.5 L1621.5,1482.7 L1622.5,1491.2 L1623.5,1502.9 L1624.5,1516.1 L1625.5,1528.8 L1626.5,1539.1 L1627.5,1545.2 L1628.5,1545.5 L1629.5,1542.1 L1630.5,1535.8 L1631.5,1527.7 L1632.5,1518.4 L1633.5,1508.6 L1634.5,1499.3 L1635.5,1491.2 L1636.5,1484.9 L1637.5,1481.5 L1638.5,1481.0 L1639.5,1481.0 L1640.5,1481.2 L1641.5,1481.6 L1642.5,1482.3 L1643.5,1483.4 L1644.5,1484.9 L1645.5,1487.0 L1646.5,1489.8 L1647.5,1493.2 L1648.5,1497.5 L1649.0,1500.0" stroke="#ff0000" stroke-width="10"/>
<path d="M341.5,1480.0 L342.5,1462.6 L343.5,1447.5 L344.5,1434.6 L345.5,1424.0 L346.5,1415.7 L347.5,1409.8 L348.5,1406.2 L349.5,1405.0 L350.5,1408.1 L351.5,1416.4 L352.5,1428.6 L353.5,1443.3 L354.5,1458.9 L355.5,1474.3 L356.5,1487.9 L357.5,1498.3 L358.5,1504.2 L359.5,1504.3 L360.5,1499.2 L361.5,1490.2 L362.5,1478.2 L363.5,1464.6 L364.5,1450.4 L365.5,1436.8 L366.5,1424.8 L367.5,1415.8 L368.5,1410.7 L369.5,1410.6 L370.5,1415.3 L371.5,1423.8 L372.5,1435.1 L373.5,1448.2 L374.5,1462.4 L375.5,1476.5 L376.5,1489.6 L377.5,1500.9 L378.5,1509.4 L379.5,1514.1 L380.5,1513.9 L381.5,1507.7 L382.5,1496.8 L383.5,1482.4 L384.5,1465.9 L385.5,1448.8 L386.5,1432.3 L387.5,1417.9 L388.5,1407.0 L389.5,1400.8 L390.5,1400.8 L391.5,1407.0 L392.5,1417.9 L393.5,1431.9 L394.5,1447.5 L395.5,1463.1 L396.5,1477.1 L397.5,1488.0 L398.5,1494.2 L399.5,1494.3 L400.5,1489.2 L401.5,1480.2 L402.5,1468.2 L403.5,1454.6 L404.5,1440.4 L405.5,1426.8 L406.5,1414.8 L407.5,1405.8 L408.5,1400.7 L409.5,1400.7 L410.5,1405.8 L411.5,1415.0 L412.5,1427.2 L413.5,1441.3 L414.5,1456.2 L415.5,1470.9 L416.5,1484.2 L417.5,1495.0 L418.5,1502.3 L419.5,1505.0 L420.5,1500.9 L421.5,1489.6 L422.5,1472.8 L423.5,1452.1 L424.5,1429.2 L425.5,1405.8 L426.5,1383.4 L427.5,1363.7 L428.5,1348.4 L429.5,1339.1 L430.5,1337.5 L431.5,1345.0 L432.5,1360.3 L433.5,1381.3 L434.5,1406.1 L435.5,1432.5 L436.5,1458.6 L437.5,1482.5 L438.5,1502.0 L439.5,1515.2 L440.5,1520.0 L441.5,1516.7 L442.5,1507.6 L443.5,1494.2 L444.5,1477.8 L445.5,1459.6 L446.5,1441.2 L447.5,1423.7 L448.5,1408.6 L449.5,1397.2 L450.5,1390.9 L451.5,1390.6 L452.5,1394.9 L453.5,1402.8 L454.5,1413.6 L455.5,1426.3 L456.5,1440.2 L457.5,1454.4 L458.5,1468.3 L459.5,1481.0 L460.5,1491.8 L461.5,1499.7 L462.5,1504.0 L463.5,1503.8 L464.5,1498.3 L465.5,1488.4 L466.5,1475.5 L467.5,1461.0 L468.5,1446.2 L469.5,1432.3 L470.5,1420.8 L471.5,1412.9 L472.5,1410.0 L473.5,1412.3 L474.5,1418.6 L475.5,1427.7 L476.5,1438.7 L477.5,1450.5 L478.5,1462.0 L479.5,1472.2 L480.5,1480.0 L481.5,1484.4 L482.5,1484.2 L483.5,1478.0 L484.5,1467.3 L485.5,1453.6 L486.5,1438.8 L487.5,1424.3 L488.5,1411.9 L489.5,1403.3 L490.5,1400.0 L491.5,1401.3 L492.5,1404.8 L493.5,1410.3 L494.5,1417.3 L495.5,1425.6 L496.5,1434.9 L497.5,1444.7 L498.5,1454.8 L499.5,1464.7 L500.5,1474.2 L501.5,1483.0 L502.5,1490.6 L503.5,1496.7 L504.5,1501.1 L505.5,1503.3 L506.5,1503.1 L507.5,1500.9 L508.5,1497.6 L509.5,1493.9 L510.5,1490.4 L511.5,1488.1 L512.5,1487.9 L513.5,1493.1 L514.5,1504.1 L515.5,1520.3 L516.5,1551.9 L517.5,1591.6 L518.5,1614.1 L519.5,1635.9 L520.5,1656.9 L521.5,1682.7 L522.5,1731.1 L523.5,1740.6 L524.5,1744.5 L525.5,1747.0 L526.5,1749.4 L527.5,1752.6 L528.5,1755.5 L529.5,1759.2 L530.5,1766.0 L531.5,1788.9 L532.5,1827.2 L533.5,1884.7 L534.5,1928.4 L535.5,1971.3 L536.5,2002.8 L537.5,2036.2 L538.5,2069.7 L539.5,2090.1 L540.5,2062.9 L541.5,2034.8 L542.5,2005.3 L543.5,1972.0 L544.5,1921.5 L545.5,1870.0 L546.5,1822.0 L547.5,1780.1 L548.5,1737.5 L549.5,1711.3 L550.5,1693.9 L551.5,1674.3 L552.5,1650.0 L553.5,1605.2 L554.5,1544.9 L555.5,1503.7 L556.5,1480.6 L557.5,1466.8 L558.5,1455.0 L559.5,1440.9 L560.5,1426.8 L561.5,1417.4 L562.5,1416.9 L563.5,1421.1 L564.5,1419.4 L565.5,1402.6 L566.5,1380.0 L567.5,1351.3 L568.5,1320.0 L569.5,1289.9 L570.5,1268.8 L571.5,1263.2 L572.5,1259.3 L573.5,1256.8 L574.5,1256.0 L575.5,1256.1 L576.5,1256.5 L577.5,1256.9 L578.5,1257.3 L579.5,1257.7 L580.5,1258.0 L581.5,1257.3 L582.5,1252.5 L583.5,1244.2 L584.5,1233.9 L585.5,1223.0 L586.5,1212.9 L587.5,1205.2 L588.5,1201.2 L589.5,1201.7 L590.5,1205.1 L591.5,1210.9 L592.5,1218.8 L593.5,1228.3 L594.5,1239.2 L595.5,1251.1 L596.5,1263.5 L597.5,1276.2 L598.5,1288.8 L599.5,1300.8 L600.5,1312.0 L601.5,1322.0 L602.5,1330.4 L603.5,1336.9 L604.5,1341.0 L605.5,1342.5 L606.5,1340.0 L607.5,1333.2 L608.5,1323.4 L609.5,1311.7 L610.5,1299.2 L611.5,1287.1 L612.5,1276.5 L613.5,1268.7 L614.5,1264.8 L615.5,1265.6 L616.5,1270.0 L617.5,1277.2 L618.5,1286.1 L619.5,1295.8 L620.5,1305.4 L621.5,1314.0 L622.5,1320.7 L623.5,1324.5 L624.5,1324.0 L625.5,1316.6 L626.5,1303.6 L627.5,1286.6 L628.5,1267.4 L629.5,1247.8 L630.5,1229.5 L631.5,1214.3 L632.5,1203.9 L633.5,1200.0 L634.5,1206.9 L635.5,1224.7 L636.5,1249.3 L637.5,1276.6 L638.5,1302.5 L639.5,1322.8 L640.5,1333.3 L641.5,1333.4 L642.5,1330.7 L643.5,1326.1 L644.5,1320.1 L645.5,1313.2 L646.5,1305.6 L647.5,1297.9 L648.5,1290.4 L649.5,1283.6 L650.5,1277.9 L651.5,1273.6 L652.5,1271.3 L653.5,1271.1 L654.5,1272.0 L655.5,1273.6 L656.5,1276.0 L657.5,1279.1 L658.5,1282.8 L659.5,1287.1 L660.5,1292.0 L661.5,1297.4 L662.5,1303.1 L663.5,1309.3 L664.5,1315.8 L665.5,1322.6 L666.5,1329.6 L667.5,1336.8 L668.5,1344.2 L669.5,1351.6 L670.5,1359.0 L671.5,1366.4 L672.5,1373.7 L673.5,1380.9 L674.5,1387.9 L675.5,1394.6 L676.5,1401.1 L677.5,1407.2 L678.5,1413.0 L679.5,1418.3 L680.5,1423.1 L681.5,1427.4 L682.5,1431.1 L683.5,1434.1 L684.5,1436.4 L685.5,1438.0 L686.5,1438.7 L687.5,1438.7 L688.5,1437.8 L689.5,1436.1 L690.5,1433.8 L691.5,1430.7 L692.5,1427.1 L693.5,1422.9 L694.5,1418.2 L695.5,1413.0 L696.5,1407.5 L697.5,1401.5 L698.5,1395.2 L699.5,1388.7 L700.5,1381.9 L701.5,1374.9 L702.5,1367.9 L703.5,1360.7 L704.5,1353.5 L705.5,1346.4 L706.5,1339.3 L707.5,1332.3 L708.5,1325.5 L709.5,1318.9 L710.5,1312.5 L711.5,1306.5 L712.5,1300.8 L713.5,1295.6 L714.5,1290.8 L715.5,1286.5 L716.5,1282.8 L717.5,1279.6 L718.5,1277.1 L719.5,1275.3 L720.5,1274.3 L721.5,1274.4 L722.5,1285.5 L723.5,1307.8 L724.5,1336.2 L725.5,1365.4 L726.5,1390.0 L727.5,1404.9 L728.5,1406.2 L729.5,1400.4 L730.5,1389.8 L731.5,1375.5 L732.5,1358.7 L733.5,1340.5 L734.5,1321.9 L735.5,1304.1 L736.5,1288.3 L737.5,1275.4 L738.5,1266.6 L739.5,1263.1 L740.5,1272.6 L741.5,1298.6 L742.5,1331.2 L743.5,1360.3 L744.5,1375.5 L745.5,1375.2 L746.5,1371.9 L747.5,1366.5 L748.5,1359.2 L749.5,1350.4 L750.5,1340.3 L751.5,1329.2 L752.5,1317.3 L753.5,1305.1 L754.5,1292.8 L755.5,1280.7 L756.5,1269.0 L757.5,1258.1 L758.5,1248.3 L759.5,1239.9 L760.5,1233.1 L761.5,1228.3 L762.5,1225.7 L763.5,1226.3 L764.5,1234.3 L765.5,1248.8 L766.5,1268.1 L767.5,1290.3 L768.5,1313.6 L769.5,1336.4 L770.5,1356.6 L771.5,1372.7 L772.5,1382.8 L773.5,1383.1 L774.5,1335.9 L775.5,1268.2 L776.5,1233.6 L777.5,1236.2 L778.5,1243.4 L779.5,1254.4 L780.5,1268.5 L781.5,1284.7 L782.5,1302.4 L783.5,1320.7 L784.5,1338.8 L785.5,1355.8 L786.5,1371.1 L787.5,1383.7 L788.5,1392.9 L789.5,1397.9 L790.5,1398.2 L791.5,1395.0 L792.5,1389.1 L793.5,1380.9 L794.5,1370.8 L795.5,1359.3 L796.5,1346.8 L797.5,1333.8 L798.5,1320.7 L799.5,1308.0 L800.5,1296.1 L801.5,1285.4 L802.5,1276.5 L803.5,1269.6 L804.5,1265.4 L805.5,1264.2 L806.5,1272.2 L807.5,1290.4 L808.5,1315.9 L809.5,1345.6 L810.5,1376.3 L811.5,1404.9 L812.5,1428.4 L813.5,1443.6 L814.5,1447.6 L815.5,1442.1 L816.5,1429.9 L817.5,1412.6 L818.5,1391.6 L819.5,1368.5 L820.5,1344.7 L821.5,1321.9 L822.5,1301.5 L823.5,1285.0 L824.5,1274.0 L825.5,1270.0 L826.5,1280.2 L827.5,1306.8 L828.5,1343.4 L829.5,1383.5 L830.5,1420.7 L831.5,1448.7 L832.5,1460.9 L833.5,1458.9 L834.5,1452.1 L835.5,1441.5 L836.5,1427.9 L837.5,1412.1 L838.5,1395.1 L839.5,1377.7 L840.5,1360.8 L841.5,1345.1 L842.5,1331.7 L843.5,1321.2 L844.5,1314.6 L845.5,1316.6 L846.5,1427.4 L847.5,1441.6 L848.5,1441.0 L849.5,1440.0 L850.5,1438.6 L851.5,1436.8 L852.5,1434.7 L853.5,1432.2 L854.5,1429.4 L855.5,1426.3 L856.5,1423.0 L857.5,1419.4 L858.5,1415.6 L859.5,1411.7 L860.5,1407.6 L861.5,1403.3 L862.5,1399.0 L863.5,1394.6 L864.5,1390.1 L865.5,1385.6 L866.5,1381.1 L867.5,1376.6 L868.5,1372.2 L869.5,1367.8 L870.5,1363.6 L871.5,1359.4 L872.5,1355.5 L873.5,1351.7 L874.5,1348.1 L875.5,1344.7 L876.5,1341.6 L877.5,1338.8 L878.5,1336.3 L879.5,1334.1 L880.5,1332.2 L881.5,1330.8 L882.5,1329.8 L883.5,1329.2 L884.5,1329.1 L885.5,1331.0 L886.5,1335.3 L887.5,1341.8 L888.5,1350.0 L889.5,1359.5 L890.5,1370.1 L891.5,1381.4 L892.5,1393.0 L893.5,1404.5 L894.5,1415.6 L895.5,1426.0 L896.5,1435.2 L897.5,1443.0 L898.5,1449.0 L899.5,1452.7 L900.5,1453.9 L901.5,1427.3 L902.5,1379.9 L903.5,1351.3 L904.5,1351.9 L905.5,1354.9 L906.5,1359.7 L907.5,1366.0 L908.5,1373.6 L909.5,1382.2 L910.5,1391.5 L911.5,1401.4 L912.5,1411.4 L913.5,1421.4 L914.5,1431.1 L915.5,1440.2 L916.5,1448.4 L917.5,1455.5 L918.5,1461.3 L919.5,1465.4 L920.5,1467.5 L921.5,1457.5 L922.5,1399.0 L923.5,1343.8 L924.5,1337.8 L925.5,1342.3 L926.5,1350.0 L927.5,1360.4 L928.5,1372.5 L929.5,1385.8 L930.5,1399.4 L931.5,1412.5 L932.5,1424.6 L933.5,1434.7 L934.5,1442.2 L935.5,1446.3 L936.5,1445.9 L937.5,1439.3 L938.5,1428.1 L939.5,1413.9 L940.5,1398.9 L941.5,1384.7 L942.5,1373.5 L943.5,1366.9 L944.5,1366.2 L945.5,1367.6 L946.5,1370.2 L947.5,1373.9 L948.5,1378.4 L949.5,1383.5 L950.5,1389.0 L951.5,1394.7 L952.5,1400.5 L953.5,1406.1 L954.5,1411.3 L955.5,1415.9 L956.5,1419.7 L957.5,1422.6 L958.5,1424.2 L959.5,1424.4 L960.5,1421.3 L961.5,1414.8 L962.5,1405.5 L963.5,1394.0 L964.5,1381.1 L965.5,1367.2 L966.5,1353.1 L967.5,1339.3 L968.5,1326.4 L969.5,1315.1 L970.5,1306.1 L971.5,1299.8 L972.5,1297.0 L973.5,1301.5 L974.5,1318.6 L975.5,1344.0 L976.5,1373.1 L977.5,1401.2 L978.5,1424.0 L979.5,1436.7 L980.5,1437.3 L981.5,1433.3 L982.5,1426.2 L983.5,1416.6 L984.5,1404.9 L985.5,1391.7 L986.5,1377.6 L987.5,1363.0 L988.5,1348.6 L989.5,1334.8 L990.5,1322.1 L991.5,1311.1 L992.5,1302.4 L993.5,1296.5 L994.5,1293.8 L995.5,1307.1 L996.5,1350.2 L997.5,1401.6 L998.5,1438.2 L999.5,1443.4 L1000.5,1440.7 L1001.5,1435.5 L1002.5,1428.2 L1003.5,1419.2 L1004.5,1408.6 L1005.5,1396.8 L1006.5,1384.2 L1007.5,1371.0 L1008.5,1357.7 L1009.5,1344.4 L1010.5,1331.5 L1011.5,1319.3 L1012.5,1308.2 L1013.5,1298.4 L1014.5,1290.3 L1015.5,1284.1 L1016.5,1280.3 L1017.5,1279.1 L1018.5,1291.9 L1019.5,1322.3 L1020.5,1362.4 L1021.5,1404.7 L1022.5,1441.3 L1023.5,1464.6 L1024.5,1468.6 L1025.5,1465.1 L1026.5,1458.4 L1027.5,1448.9 L1028.5,1437.2 L1029.5,1423.8 L1030.5,1409.2 L1031.5,1394.1 L1032.5,1379.0 L1033.5,1364.4 L1034.5,1350.9 L1035.5,1339.0 L1036.5,1329.3 L1037.5,1322.2 L1038.5,1318.5 L1039.5,1323.2 L1040.5,1356.0 L1041.5,1401.8 L1042.5,1440.4 L1043.5,1452.5 L1044.5,1450.6 L1045.5,1446.1 L1046.5,1439.5 L1047.5,1431.1 L1048.5,1421.3 L1049.5,1410.4 L1050.5,1398.7 L1051.5,1386.7 L1052.5,1374.6 L1053.5,1362.8 L1054.5,1351.8 L1055.5,1341.7 L1056.5,1333.1 L1057.5,1326.2 L1058.5,1321.3 L1059.5,1319.0 L1060.5,1319.0 L1061.5,1320.2 L1062.5,1322.2 L1063.5,1325.2 L1064.5,1328.9 L1065.5,1333.2 L1066.5,1338.2 L1067.5,1343.7 L1068.5,1349.6 L1069.5,1355.9 L1070.5,1362.5 L1071.5,1369.3 L1072.5,1376.1 L1073.5,1383.1 L1074.5,1389.9 L1075.5,1396.7 L1076.5,1403.2 L1077.5,1409.4 L1078.5,1415.3 L1079.5,1420.7 L1080.5,1425.6 L1081.5,1429.9 L1082.5,1433.5 L1083.5,1436.3 L1084.5,1438.3 L1085.5,1439.3 L1086.5,1439.1 L1087.5,1436.7 L1088.5,1432.3 L1089.5,1425.9 L1090.5,1418.1 L1091.5,1408.9 L1092.5,1398.7 L1093.5,1387.7 L1094.5,1376.2 L1095.5,1364.6 L1096.5,1352.9 L1097.5,1341.6 L1098.5,1330.9 L1099.5,1321.0 L1100.5,1312.2 L1101.5,1304.8 L1102.5,1299.1 L1103.5,1295.3 L1104.5,1293.7 L1105.5,1311.4 L1106.5,1360.3 L1107.5,1408.4 L1108.5,1424.5 L1109.5,1422.4 L1110.5,1417.6 L1111.5,1410.6 L1112.5,1401.7 L1113.5,1391.3 L1114.5,1379.8 L1115.5,1367.8 L1116.5,1355.5 L1117.5,1343.3 L1118.5,1331.7 L1119.5,1321.2 L1120.5,1312.0 L1121.5,1304.6 L1122.5,1299.5 L1123.5,1296.9 L1124.5,1302.7 L1125.5,1330.3 L1126.5,1368.8 L1127.5,1405.9 L1128.5,1428.8 L1129.5,1430.3 L1130.5,1425.4 L1131.5,1416.9 L1132.5,1405.5 L1133.5,1392.3 L1134.5,1377.9 L1135.5,1363.3 L1136.5,1349.3 L1137.5,1336.7 L1138.5,1326.3 L1139.5,1319.1 L1140.5,1315.9 L1141.5,1320.5 L1142.5,1336.7 L1143.5,1359.2 L1144.5,1382.6 L1145.5,1401.2 L1146.5,1409.7 L1147.5,1408.9 L1148.5,1406.0 L1149.5,1401.4 L1150.5,1395.5 L1151.5,1388.6 L1152.5,1381.1 L1153.5,1373.3 L1154.5,1365.6 L1155.5,1358.3 L1156.5,1351.8 L1157.5,1346.4 L1158.5,1342.4 L1159.5,1340.3 L1160.5,1340.7 L1161.5,1346.1 L1162.5,1355.6 L1163.5,1368.2 L1164.5,1382.5 L1165.5,1397.5 L1166.5,1411.8 L1167.5,1424.4 L1168.5,1433.9 L1169.5,1439.3 L1170.5,1439.6 L1171.5,1436.4 L1172.5,1430.5 L1173.5,1422.5 L1174.5,1412.8 L1175.5,1401.9 L1176.5,1390.4 L1177.5,1378.7 L1178.5,1367.3 L1179.5,1356.9 L1180.5,1347.8 L1181.5,1340.5 L1182.5,1335.7 L1183.5,1333.7 L1184.5,1337.0 L1185.5,1347.3 L1186.5,1362.7 L1187.5,1381.0 L1188.5,1400.4 L1189.5,1418.7 L1190.5,1434.1 L1191.5,1444.4 L1192.5,1447.7 L1193.5,1445.8 L1194.5,1441.2 L1195.5,1434.4 L1196.5,1426.2 L1197.5,1417.1 L1198.5,1407.6 L1199.5,1398.5 L1200.5,1390.3 L1201.5,1383.5 L1202.5,1378.9 L1203.5,1377.0 L1204.5,1377.5 L1205.5,1379.2 L1206.5,1381.9 L1207.5,1385.5 L1208.5,1389.9 L1209.5,1395.0 L1210.5,1400.7 L1211.5,1406.8 L1212.5,1413.2 L1213.5,1419.8 L1214.5,1426.5 L1215.5,1433.1 L1216.5,1439.5 L1217.5,1445.7 L1218.5,1451.4 L1219.5,1456.6 L1220.5,1461.1 L1221.5,1464.8 L1222.5,1467.6 L1223.5,1469.4 L1224.5,1470.0 L1225.5,1457.1 L1226.5,1427.1 L1227.5,1392.7 L1228.5,1366.6 L1229.5,1360.3 L1230.5,1364.9 L1231.5,1374.3 L1232.5,1387.0 L1233.5,1401.7 L1234.5,1417.1 L1235.5,1431.8 L1236.5,1444.5 L1237.5,1453.9 L1238.5,1458.5 L1239.5,1456.7 L1240.5,1447.8 L1241.5,1433.7 L1242.5,1416.7 L1243.5,1399.1 L1244.5,1383.0 L1245.5,1370.7 L1246.5,1364.4 L1247.5,1364.6 L1248.5,1367.4 L1249.5,1372.2 L1250.5,1378.8 L1251.5,1386.9 L1252.5,1396.3 L1253.5,1406.7 L1254.5,1417.9 L1255.5,1429.5 L1256.5,1441.4 L1257.5,1453.2 L1258.5,1464.7 L1259.5,1475.7 L1260.5,1485.9 L1261.5,1495.1 L1262.5,1502.9 L1263.5,1509.1 L1264.5,1513.5 L1265.5,1515.7 L1266.5,1514.9 L1267.5,1507.1 L1268.5,1493.3 L1269.5,1475.1 L1270.5,1453.9 L1271.5,1431.4 L1272.5,1409.0 L1273.5,1388.3 L1274.5,1370.8 L1275.5,1358.1 L1276.5,1351.8 L1277.5,1354.5 L1278.5,1369.3 L1279.5,1392.6 L1280.5,1420.5 L1281.5,1449.1 L1282.5,1474.4 L1283.5,1492.5 L1284.5,1499.4 L1285.5,1495.2 L1286.5,1483.8 L1287.5,1467.2 L1288.5,1447.4 L1289.5,1426.2 L1290.5,1405.5 L1291.5,1387.4 L1292.5,1373.7 L1293.5,1366.4 L1294.5,1368.2 L1295.5,1381.8 L1296.5,1403.5 L1297.5,1429.2 L1298.5,1454.6 L1299.5,1475.7 L1300.5,1488.2 L1301.5,1489.8 L1302.5,1488.2 L1303.5,1485.1 L1304.5,1480.8 L1305.5,1475.3 L1306.5,1468.9 L1307.5,1461.7 L1308.5,1453.8 L1309.5,1445.5 L1310.5,1436.9 L1311.5,1428.2 L1312.5,1419.5 L1313.5,1411.0 L1314.5,1402.8 L1315.5,1395.2 L1316.5,1388.2 L1317.5,1382.1 L1318.5,1377.0 L1319.5,1373.1 L1320.5,1370.6 L1321.5,1369.5 L1322.5,1372.7 L1323.5,1383.4 L1324.5,1399.3 L1325.5,1418.0 L1326.5,1437.5 L1327.5,1455.2 L1328.5,1469.0 L1329.5,1476.5 L1330.5,1476.8 L1331.5,1474.2 L1332.5,1469.6 L1333.5,1463.4 L1334.5,1455.9 L1335.5,1447.4 L1336.5,1438.2 L1337.5,1428.7 L1338.5,1419.2 L1339.5,1410.1 L1340.5,1401.7 L1341.5,1394.3 L1342.5,1388.3 L1343.5,1383.9 L1344.5,1381.6 L1345.5,1391.2 L1346.5,1440.6 L1347.5,1472.4 L1348.5,1471.6 L1349.5,1469.3 L1350.5,1465.6 L1351.5,1460.8 L1352.5,1455.1 L1353.5,1448.5 L1354.5,1441.3 L1355.5,1433.6 L1356.5,1425.7 L1357.5,1417.6 L1358.5,1409.7 L1359.5,1401.9 L1360.5,1394.6 L1361.5,1387.9 L1362.5,1381.9 L1363.5,1376.9 L1364.5,1373.1 L1365.5,1370.5 L1366.5,1369.3 L1367.5,1369.6 L1368.5,1370.9 L1369.5,1373.1 L1370.5,1376.2 L1371.5,1380.0 L1372.5,1384.4 L1373.5,1389.5 L1374.5,1395.0 L1375.5,1400.9 L1376.5,1407.2 L1377.5,1413.7 L1378.5,1420.4 L1379.5,1427.2 L1380.5,1433.9 L1381.5,1440.6 L1382.5,1447.1 L1383.5,1453.4 L1384.5,1459.3 L1385.5,1464.8 L1386.5,1469.9 L1387.5,1474.3 L1388.5,1478.1 L1389.5,1481.2 L1390.5,1483.4 L1391.5,1484.7 L1392.5,1484.9 L1393.5,1480.4 L1394.5,1470.6 L1395.5,1457.0 L1396.5,1441.1 L1397.5,1424.3 L1398.5,1408.0 L1399.5,1393.9 L1400.5,1383.2 L1401.5,1377.5 L1402.5,1378.2 L1403.5,1385.1 L1404.5,1396.6 L1405.5,1411.3 L1406.5,1427.8 L1407.5,1444.5 L1408.5,1459.9 L1409.5,1472.5 L1410.5,1480.9 L1411.5,1483.6 L1412.5,1482.6 L1413.5,1480.0 L1414.5,1476.1 L1415.5,1470.9 L1416.5,1464.7 L1417.5,1457.6 L1418.5,1449.7 L1419.5,1441.4 L1420.5,1432.6 L1421.5,1423.6 L1422.5,1414.6 L1423.5,1405.7 L1424.5,1397.1 L1425.5,1389.0 L1426.5,1381.4 L1427.5,1374.7 L1428.5,1368.9 L1429.5,1364.3 L1430.5,1360.9 L1431.5,1359.1 L1432.5,1361.1 L1433.5,1388.7 L1434.5,1430.5 L1435.5,1465.4 L1436.5,1474.4 L1437.5,1470.3 L1438.5,1462.2 L1439.5,1451.2 L1440.5,1438.3 L1441.5,1424.6 L1442.5,1411.4 L1443.5,1399.6 L1444.5,1390.5 L1445.5,1385.2 L1446.5,1384.7 L1447.5,1390.0 L1448.5,1399.9 L1449.5,1413.3 L1450.5,1428.8 L1451.5,1445.1 L1452.5,1461.0 L1453.5,1475.1 L1454.5,1486.3 L1455.5,1493.1 L1456.5,1494.5 L1457.5,1493.0 L1458.5,1489.9 L1459.5,1485.3 L1460.5,1479.3 L1461.5,1472.3 L1462.5,1464.4 L1463.5,1455.7 L1464.5,1446.6 L1465.5,1437.1 L1466.5,1427.5 L1467.5,1417.9 L1468.5,1408.6 L1469.5,1399.7 L1470.5,1391.5 L1471.5,1384.1 L1472.5,1377.8 L1473.5,1372.6 L1474.5,1368.9 L1475.5,1366.8 L1476.5,1367.5 L1477.5,1384.0 L1478.5,1412.2 L1479.5,1442.7 L1480.5,1466.0 L1481.5,1472.9 L1482.5,1470.2 L1483.5,1464.2 L1484.5,1455.6 L1485.5,1445.3 L1486.5,1434.0 L1487.5,1422.4 L1488.5,1411.4 L1489.5,1401.7 L1490.5,1394.1 L1491.5,1389.3 L1492.5,1388.1 L1493.5,1392.4 L1494.5,1401.7 L1495.5,1414.4 L1496.5,1429.0 L1497.5,1444.0 L1498.5,1457.9 L1499.5,1469.0 L1500.5,1476.0 L1501.5,1477.4 L1502.5,1474.1 L1503.5,1467.5 L1504.5,1458.5 L1505.5,1448.1 L1506.5,1437.3 L1507.5,1427.0 L1508.5,1418.2 L1509.5,1411.8 L1510.5,1408.9 L1511.5,1409.6 L1512.5,1412.5 L1513.5,1417.2 L1514.5,1423.2 L1515.5,1430.0 L1516.5,1437.2 L1517.5,1444.2 L1518.5,1450.7 L1519.5,1456.1 L1520.5,1460.0 L1521.5,1461.9 L1522.5,1447.6 L1523.5,1403.2 L1524.5,1379.1 L1525.5,1379.9 L1526.5,1381.9 L1527.5,1385.1 L1528.5,1389.4 L1529.5,1394.5 L1530.5,1400.5 L1531.5,1407.1 L1532.5,1414.3 L1533.5,1422.0 L1534.5,1429.9 L1535.5,1438.1 L1536.5,1446.3 L1537.5,1454.4 L1538.5,1462.4 L1539.5,1470.1 L1540.5,1477.4 L1541.5,1484.1 L1542.5,1490.2 L1543.5,1495.4 L1544.5,1499.8 L1545.5,1503.2 L1546.5,1505.4 L1547.5,1506.4 L1548.5,1504.4 L1549.5,1497.0 L1550.5,1485.4 L1551.5,1471.0 L1552.5,1455.0 L1553.5,1438.9 L1554.5,1423.8 L1555.5,1411.3 L1556.5,1402.5 L1557.5,1398.8 L1558.5,1400.6 L1559.5,1406.2 L1560.5,1414.4 L1561.5,1424.1 L1562.5,1434.1 L1563.5,1443.3 L1564.5,1450.6 L1565.5,1454.8 L1566.5,1448.0 L1567.5,1406.6 L1568.5,1370.2 L1569.5,1367.7 L1570.5,1369.0 L1571.5,1371.2 L1572.5,1374.3 L1573.5,1378.2 L1574.5,1382.8 L1575.5,1388.0 L1576.5,1393.7 L1577.5,1399.9 L1578.5,1406.3 L1579.5,1413.0 L1580.5,1419.8 L1581.5,1426.7 L1582.5,1433.6 L1583.5,1440.3 L1584.5,1446.8 L1585.5,1453.0 L1586.5,1458.8 L1587.5,1464.1 L1588.5,1468.8 L1589.5,1472.9 L1590.5,1476.2 L1591.5,1478.6 L1592.5,1480.1 L1593.5,1480.5 L1594.5,1477.1 L1595.5,1469.2 L1596.5,1457.8 L1597.5,1444.3 L1598.5,1429.9 L1599.5,1415.9 L1600.5,1403.6 L1601.5,1394.1 L1602.5,1388.7 L1603.5,1389.0 L1604.5,1396.5 L1605.5,1409.6 L1606.5,1426.5 L1607.5,1445.2 L1608.5,1463.8 L1609.5,1480.4 L1610.5,1493.0 L1611.5,1499.8 L1612.5,1499.7 L1613.5,1494.9 L1614.5,1486.5 L1615.5,1475.5 L1616.5,1462.5 L1617.5,1448.5 L1618.5,1434.3 L1619.5,1420.6 L1620.5,1408.3 L1621.5,1398.3 L1622.5,1391.3 L1623.5,1388.1 L1624.5,1388.8 L1625.5,1391.8 L1626.5,1396.7 L1627.5,1403.3 L1628.5,1411.2 L1629.5,1420.0 L1630.5,1429.4 L1631.5,1439.2 L1632.5,1448.9 L1633.5,1458.3 L1634.5,1467.1 L1635.5,1474.8 L1636.5,1481.2 L1637.5,1486.0 L1638.5,1488.8 L1639.5,1489.4 L1640.5,1489.0 L1641.5,1488.1 L1642.5,1486.6 L1643.5,1484.5 L1644.5,1481.7 L1645.5,1478.3 L1646.5,1474.1 L1647.5,1469.1 L1648.5,1463.2 L1649.0,1460.0" stroke="#000" stroke-width="10"/>
<path d="M341.5,1545.0 L342.5,1493.5 L343.5,1447.0 L344.5,1406.2 L345.5,1371.8 L346.5,1344.5 L347.5,1325.0 L348.5,1313.9 L349.5,1312.2 L350.5,1322.3 L351.5,1342.3 L352.5,1369.4 L353.5,1400.5 L354.5,1432.7 L355.5,1462.9 L356.5,1488.2 L357.5,1505.5 L358.5,1512.0 L359.5,1508.6 L360.5,1499.4 L361.5,1485.7 L362.5,1469.0 L363.5,1450.5 L364.5,1431.7 L365.5,1413.9 L366.5,1398.5 L367.5,1386.8 L368.5,1380.4 L369.5,1380.2 L370.5,1385.6 L371.5,1395.3 L372.5,1408.3 L373.5,1423.5 L374.5,1439.8 L375.5,1456.0 L376.5,1471.2 L377.5,1484.2 L378.5,1493.9 L379.5,1499.3 L380.5,1498.9 L381.5,1491.2 L382.5,1477.5 L383.5,1459.6 L384.5,1439.6 L385.5,1419.1 L386.5,1400.2 L387.5,1384.6 L388.5,1374.2 L389.5,1370.9 L390.5,1375.9 L391.5,1387.6 L392.5,1404.2 L393.5,1423.6 L394.5,1444.1 L395.5,1463.5 L396.5,1480.1 L397.5,1491.8 L398.5,1496.8 L399.5,1493.6 L400.5,1483.8 L401.5,1469.0 L402.5,1451.0 L403.5,1431.7 L404.5,1412.9 L405.5,1396.3 L406.5,1383.8 L407.5,1377.0 L408.5,1377.4 L409.5,1383.2 L410.5,1393.2 L411.5,1406.4 L412.5,1421.9 L413.5,1438.6 L414.5,1455.4 L415.5,1471.5 L416.5,1485.7 L417.5,1497.2 L418.5,1504.7 L419.5,1507.5 L420.5,1504.3 L421.5,1495.6 L422.5,1482.6 L423.5,1466.4 L424.5,1448.2 L425.5,1429.3 L426.5,1410.7 L427.5,1393.8 L428.5,1379.7 L429.5,1369.5 L430.5,1364.6 L431.5,1367.0 L432.5,1379.1 L433.5,1398.7 L434.5,1423.4 L435.5,1450.8 L436.5,1478.4 L437.5,1503.8 L438.5,1524.6 L439.5,1538.4 L440.5,1542.8 L441.5,1537.4 L442.5,1524.4 L443.5,1505.7 L444.5,1483.1 L445.5,1458.5 L446.5,1433.9 L447.5,1411.1 L448.5,1391.9 L449.5,1378.2 L450.5,1372.0 L451.5,1373.1 L452.5,1378.2 L453.5,1386.4 L454.5,1397.0 L455.5,1409.3 L456.5,1422.5 L457.5,1436.0 L458.5,1449.0 L459.5,1460.9 L460.5,1470.8 L461.5,1478.2 L462.5,1482.2 L463.5,1482.0 L464.5,1476.7 L465.5,1467.3 L466.5,1455.1 L467.5,1441.4 L468.5,1427.3 L469.5,1414.2 L470.5,1403.3 L471.5,1395.8 L472.5,1393.0 L473.5,1395.7 L474.5,1402.9 L475.5,1413.5 L476.5,1426.3 L477.5,1439.9 L478.5,1453.3 L479.5,1465.1 L480.5,1474.2 L481.5,1479.3 L482.5,1478.8 L483.5,1470.3 L484.5,1455.6 L485.5,1436.9 L486.5,1416.8 L487.5,1397.4 L488.5,1381.3 L489.5,1370.6 L490.5,1367.8 L491.5,1372.2 L492.5,1381.7 L493.5,1394.7 L494.5,1410.0 L495.5,1425.8 L496.5,1440.9 L497.5,1453.7 L498.5,1462.7 L499.5,1466.5 L500.5,1464.8 L501.5,1459.2 L502.5,1450.4 L503.5,1439.2 L504.5,1426.1 L505.5,1412.0 L506.5,1397.4 L507.5,1383.1 L508.5,1369.8 L509.5,1358.1 L510.5,1348.8 L511.5,1342.6 L512.5,1340.0 L513.5,1343.1 L514.5,1353.0 L515.5,1368.1 L516.5,1387.0 L517.5,1408.2 L518.5,1430.1 L519.5,1451.3 L520.5,1470.2 L521.5,1485.3 L522.5,1495.2 L523.5,1498.3 L524.5,1492.8 L525.5,1479.9 L526.5,1462.0 L527.5,1441.3 L528.5,1420.3 L529.5,1401.4 L530.5,1386.7 L531.5,1378.8 L532.5,1380.6 L533.5,1395.1 L534.5,1419.6 L535.5,1450.7 L536.5,1485.2 L537.5,1519.9 L538.5,1551.5 L539.5,1576.8 L540.5,1592.5 L541.5,1595.6 L542.5,1589.6 L543.5,1577.3 L544.5,1559.9 L545.5,1538.8 L546.5,1515.5 L547.5,1491.2 L548.5,1467.3 L549.5,1445.2 L550.5,1426.2 L551.5,1411.6 L552.5,1402.9 L553.5,1401.4 L554.5,1408.0 L555.5,1421.5 L556.5,1440.2 L557.5,1462.5 L558.5,1486.8 L559.5,1511.3 L560.5,1534.6 L561.5,1555.0 L562.5,1570.7 L563.5,1580.3 L564.5,1581.9 L565.5,1573.7 L566.5,1556.8 L567.5,1533.3 L568.5,1505.0 L569.5,1474.0 L570.5,1442.2 L571.5,1411.6 L572.5,1384.2 L573.5,1361.8 L574.5,1346.5 L575.5,1340.3 L576.5,1343.9 L577.5,1355.1 L578.5,1371.2 L579.5,1389.4 L580.5,1407.1 L581.5,1421.6 L582.5,1430.1 L583.5,1430.2 L584.5,1422.0 L585.5,1407.5 L586.5,1388.3 L587.5,1366.4 L588.5,1343.7 L589.5,1321.8 L590.5,1302.6 L591.5,1288.1 L592.5,1279.9 L593.5,1279.4 L594.5,1284.2 L595.5,1293.0 L596.5,1304.9 L597.5,1319.2 L598.5,1335.0 L599.5,1351.4 L600.5,1367.7 L601.5,1382.9 L602.5,1396.4 L603.5,1407.1 L604.5,1414.4 L605.5,1417.4 L606.5,1414.6 L607.5,1405.6 L608.5,1391.9 L609.5,1374.7 L610.5,1355.4 L611.5,1335.3 L612.5,1315.9 L613.5,1298.4 L614.5,1284.3 L615.5,1274.8 L616.5,1271.3 L617.5,1275.5 L618.5,1286.7 L619.5,1303.2 L620.5,1322.9 L621.5,1344.1 L622.5,1364.8 L623.5,1383.2 L624.5,1397.3 L625.5,1405.2 L626.5,1405.0 L627.5,1395.6 L628.5,1378.8 L629.5,1356.8 L630.5,1331.9 L631.5,1306.2 L632.5,1281.9 L633.5,1261.3 L634.5,1246.4 L635.5,1239.6 L636.5,1241.4 L637.5,1248.9 L638.5,1260.8 L639.5,1275.9 L640.5,1293.1 L641.5,1311.1 L642.5,1328.8 L643.5,1344.9 L644.5,1358.2 L645.5,1367.6 L646.5,1371.9 L647.5,1370.8 L648.5,1366.2 L649.5,1359.0 L650.5,1349.9 L651.5,1339.5 L652.5,1328.7 L653.5,1318.1 L654.5,1308.5 L655.5,1300.7 L656.5,1295.3 L657.5,1293.0 L658.5,1296.0 L659.5,1305.4 L660.5,1320.1 L661.5,1338.6 L662.5,1359.8 L663.5,1382.1 L664.5,1404.4 L665.5,1425.4 L666.5,1443.6 L667.5,1457.8 L668.5,1466.6 L669.5,1468.8 L670.5,1461.3 L671.5,1445.2 L672.5,1423.0 L673.5,1397.2 L674.5,1370.5 L675.5,1345.2 L676.5,1324.0 L677.5,1309.4 L678.5,1304.0 L679.5,1309.1 L680.5,1322.6 L681.5,1341.8 L682.5,1364.3 L683.5,1387.2 L684.5,1408.1 L685.5,1424.2 L686.5,1432.9 L687.5,1433.1 L688.5,1429.0 L689.5,1421.8 L690.5,1411.9 L691.5,1400.0 L692.5,1386.4 L693.5,1371.9 L694.5,1356.8 L695.5,1341.7 L696.5,1327.3 L697.5,1313.9 L698.5,1302.1 L699.5,1292.5 L700.5,1285.5 L701.5,1281.8 L702.5,1282.1 L703.5,1288.3 L704.5,1299.4 L705.5,1313.9 L706.5,1330.5 L707.5,1347.8 L708.5,1364.4 L709.5,1378.9 L710.5,1390.0 L711.5,1396.2 L712.5,1395.9 L713.5,1387.8 L714.5,1373.6 L715.5,1355.2 L716.5,1334.6 L717.5,1313.8 L718.5,1294.8 L719.5,1279.6 L720.5,1270.1 L721.5,1268.6 L722.5,1278.1 L723.5,1296.5 L724.5,1320.2 L725.5,1345.6 L726.5,1369.3 L727.5,1387.7 L728.5,1397.2 L729.5,1396.1 L730.5,1388.6 L731.5,1376.2 L732.5,1360.1 L733.5,1341.8 L734.5,1322.6 L735.5,1303.6 L736.5,1286.3 L737.5,1271.9 L738.5,1261.7 L739.5,1257.1 L740.5,1260.6 L741.5,1273.5 L742.5,1292.8 L743.5,1315.1 L744.5,1337.3 L745.5,1356.1 L746.5,1368.2 L747.5,1370.8 L748.5,1368.1 L749.5,1362.4 L750.5,1354.1 L751.5,1343.7 L752.5,1331.7 L753.5,1318.4 L754.5,1304.4 L755.5,1290.1 L756.5,1276.0 L757.5,1262.5 L758.5,1250.0 L759.5,1239.1 L760.5,1230.1 L761.5,1223.6 L762.5,1219.9 L763.5,1220.1 L764.5,1228.2 L765.5,1243.5 L766.5,1264.2 L767.5,1288.0 L768.5,1313.2 L769.5,1337.6 L770.5,1359.4 L771.5,1376.6 L772.5,1387.1 L773.5,1388.9 L774.5,1380.4 L775.5,1363.6 L776.5,1340.9 L777.5,1315.0 L778.5,1288.2 L779.5,1263.2 L780.5,1242.6 L781.5,1228.8 L782.5,1224.4 L783.5,1229.2 L784.5,1240.6 L785.5,1256.9 L786.5,1276.5 L787.5,1297.6 L788.5,1318.5 L789.5,1337.6 L790.5,1353.1 L791.5,1363.3 L792.5,1366.5 L793.5,1364.2 L794.5,1358.7 L795.5,1350.5 L796.5,1340.2 L797.5,1328.6 L798.5,1316.1 L799.5,1303.4 L800.5,1291.1 L801.5,1280.0 L802.5,1270.4 L803.5,1263.2 L804.5,1258.9 L805.5,1258.4 L806.5,1264.9 L807.5,1278.1 L808.5,1296.2 L809.5,1317.5 L810.5,1340.2 L811.5,1362.6 L812.5,1382.8 L813.5,1399.1 L814.5,1409.9 L815.5,1413.3 L816.5,1408.4 L817.5,1396.6 L818.5,1379.7 L819.5,1359.5 L820.5,1337.5 L821.5,1315.7 L822.5,1295.7 L823.5,1279.2 L824.5,1268.1 L825.5,1264.0 L826.5,1269.7 L827.5,1285.0 L828.5,1307.1 L829.5,1333.5 L830.5,1361.3 L831.5,1388.0 L832.5,1410.7 L833.5,1426.8 L834.5,1433.5 L835.5,1431.6 L836.5,1425.0 L837.5,1414.8 L838.5,1401.8 L839.5,1386.8 L840.5,1370.8 L841.5,1354.7 L842.5,1339.2 L843.5,1325.3 L844.5,1313.9 L845.5,1305.8 L846.5,1301.8 L847.5,1303.8 L848.5,1314.0 L849.5,1330.7 L850.5,1352.4 L851.5,1377.3 L852.5,1403.8 L853.5,1430.0 L854.5,1454.4 L855.5,1475.3 L856.5,1490.8 L857.5,1499.4 L858.5,1499.0 L859.5,1487.6 L860.5,1467.1 L861.5,1440.2 L862.5,1409.3 L863.5,1377.0 L864.5,1345.8 L865.5,1318.3 L866.5,1297.1 L867.5,1284.6 L868.5,1283.6 L869.5,1295.7 L870.5,1318.2 L871.5,1347.8 L872.5,1381.3 L873.5,1415.2 L874.5,1446.3 L875.5,1471.3 L876.5,1486.9 L877.5,1490.1 L878.5,1484.6 L879.5,1473.4 L880.5,1457.9 L881.5,1439.3 L882.5,1418.9 L883.5,1398.2 L884.5,1378.4 L885.5,1360.9 L886.5,1346.9 L887.5,1337.8 L888.5,1335.0 L889.5,1337.9 L890.5,1344.8 L891.5,1355.1 L892.5,1367.8 L893.5,1382.1 L894.5,1397.3 L895.5,1412.3 L896.5,1426.6 L897.5,1439.1 L898.5,1449.0 L899.5,1455.6 L900.5,1458.0 L901.5,1454.9 L902.5,1446.4 L903.5,1433.6 L904.5,1417.8 L905.5,1400.0 L906.5,1381.6 L907.5,1363.7 L908.5,1347.4 L909.5,1333.9 L910.5,1324.4 L911.5,1320.1 L912.5,1323.3 L913.5,1335.5 L914.5,1354.3 L915.5,1377.4 L916.5,1402.3 L917.5,1426.5 L918.5,1447.8 L919.5,1463.6 L920.5,1471.5 L921.5,1469.8 L922.5,1460.1 L923.5,1444.1 L924.5,1423.8 L925.5,1400.9 L926.5,1377.2 L927.5,1354.7 L928.5,1335.1 L929.5,1320.2 L930.5,1311.9 L931.5,1311.5 L932.5,1316.4 L933.5,1325.3 L934.5,1337.2 L935.5,1351.1 L936.5,1366.0 L937.5,1381.0 L938.5,1394.9 L939.5,1406.8 L940.5,1415.7 L941.5,1420.6 L942.5,1420.9 L943.5,1418.0 L944.5,1412.6 L945.5,1405.4 L946.5,1396.8 L947.5,1387.4 L948.5,1377.7 L949.5,1368.3 L950.5,1359.7 L951.5,1352.5 L952.5,1347.1 L953.5,1344.2 L954.5,1344.4 L955.5,1349.1 L956.5,1357.4 L957.5,1368.2 L958.5,1380.4 L959.5,1393.0 L960.5,1404.8 L961.5,1414.7 L962.5,1421.7 L963.5,1424.6 L964.5,1420.8 L965.5,1408.9 L966.5,1391.2 L967.5,1370.0 L968.5,1347.5 L969.5,1326.1 L970.5,1307.9 L971.5,1295.4 L972.5,1290.7 L973.5,1293.9 L974.5,1302.6 L975.5,1315.6 L976.5,1331.4 L977.5,1348.7 L978.5,1366.2 L979.5,1382.6 L980.5,1396.6 L981.5,1406.7 L982.5,1411.7 L983.5,1410.7 L984.5,1405.0 L985.5,1395.5 L986.5,1383.0 L987.5,1368.5 L988.5,1353.0 L989.5,1337.3 L990.5,1322.3 L991.5,1308.9 L992.5,1298.1 L993.5,1290.7 L994.5,1287.7 L995.5,1289.7 L996.5,1296.2 L997.5,1306.3 L998.5,1319.2 L999.5,1334.2 L1000.5,1350.3 L1001.5,1366.7 L1002.5,1382.6 L1003.5,1397.2 L1004.5,1409.7 L1005.5,1419.1 L1006.5,1424.8 L1007.5,1425.6 L1008.5,1419.3 L1009.5,1406.5 L1010.5,1388.9 L1011.5,1368.3 L1012.5,1346.2 L1013.5,1324.3 L1014.5,1304.4 L1015.5,1288.1 L1016.5,1277.0 L1017.5,1273.0 L1018.5,1278.3 L1019.5,1292.7 L1020.5,1313.8 L1021.5,1339.2 L1022.5,1366.5 L1023.5,1393.3 L1024.5,1417.3 L1025.5,1436.0 L1026.5,1447.0 L1027.5,1448.5 L1028.5,1443.7 L1029.5,1434.3 L1030.5,1421.4 L1031.5,1406.1 L1032.5,1389.2 L1033.5,1371.8 L1034.5,1354.9 L1035.5,1339.6 L1036.5,1326.7 L1037.5,1317.3 L1038.5,1312.5 L1039.5,1312.7 L1040.5,1317.0 L1041.5,1324.4 L1042.5,1334.3 L1043.5,1346.0 L1044.5,1358.9 L1045.5,1372.2 L1046.5,1385.2 L1047.5,1397.3 L1048.5,1407.8 L1049.5,1416.1 L1050.5,1421.4 L1051.5,1423.0 L1052.5,1418.3 L1053.5,1407.4 L1054.5,1392.0 L1055.5,1374.0 L1056.5,1355.4 L1057.5,1338.0 L1058.5,1323.8 L1059.5,1314.5 L1060.5,1312.2 L1061.5,1318.7 L1062.5,1332.7 L1063.5,1352.3 L1064.5,1375.2 L1065.5,1399.4 L1066.5,1422.7 L1067.5,1443.1 L1068.5,1458.4 L1069.5,1466.6 L1070.5,1465.7 L1071.5,1456.2 L1072.5,1440.2 L1073.5,1419.7 L1074.5,1396.7 L1075.5,1373.3 L1076.5,1351.5 L1077.5,1333.4 L1078.5,1321.1 L1079.5,1316.5 L1080.5,1320.1 L1081.5,1329.9 L1082.5,1344.1 L1083.5,1361.3 L1084.5,1379.8 L1085.5,1398.0 L1086.5,1414.2 L1087.5,1426.9 L1088.5,1434.4 L1089.5,1435.4 L1090.5,1432.3 L1091.5,1426.2 L1092.5,1417.5 L1093.5,1406.7 L1094.5,1394.3 L1095.5,1380.8 L1096.5,1366.7 L1097.5,1352.4 L1098.5,1338.4 L1099.5,1325.2 L1100.5,1313.3 L1101.5,1303.1 L1102.5,1295.1 L1103.5,1289.8 L1104.5,1287.7 L1105.5,1291.1 L1106.5,1301.8 L1107.5,1317.9 L1108.5,1337.6 L1109.5,1359.0 L1110.5,1380.2 L1111.5,1399.3 L1112.5,1414.5 L1113.5,1423.9 L1114.5,1425.6 L1115.5,1419.2 L1116.5,1406.4 L1117.5,1389.0 L1118.5,1368.9 L1119.5,1347.8 L1120.5,1327.7 L1121.5,1310.3 L1122.5,1297.5 L1123.5,1291.1 L1124.5,1292.6 L1125.5,1301.0 L1126.5,1314.7 L1127.5,1332.3 L1128.5,1352.1 L1129.5,1372.6 L1130.5,1392.3 L1131.5,1409.5 L1132.5,1422.8 L1133.5,1430.6 L1134.5,1431.7 L1135.5,1429.1 L1136.5,1423.8 L1137.5,1416.5 L1138.5,1407.7 L1139.5,1397.7 L1140.5,1387.2 L1141.5,1376.5 L1142.5,1366.2 L1143.5,1356.7 L1144.5,1348.6 L1145.5,1342.3 L1146.5,1338.2 L1147.5,1337.0 L1148.5,1341.0 L1149.5,1350.6 L1150.5,1364.5 L1151.5,1381.5 L1152.5,1400.4 L1153.5,1419.7 L1154.5,1438.3 L1155.5,1454.8 L1156.5,1467.9 L1157.5,1476.5 L1158.5,1479.1 L1159.5,1473.5 L1160.5,1459.9 L1161.5,1440.3 L1162.5,1416.9 L1163.5,1391.5 L1164.5,1366.2 L1165.5,1343.0 L1166.5,1324.0 L1167.5,1311.0 L1168.5,1306.3 L1169.5,1311.6 L1170.5,1325.8 L1171.5,1346.8 L1172.5,1372.0 L1173.5,1399.3 L1174.5,1426.2 L1175.5,1450.4 L1176.5,1469.5 L1177.5,1481.4 L1178.5,1483.8 L1179.5,1480.1 L1180.5,1472.4 L1181.5,1461.4 L1182.5,1447.8 L1183.5,1432.3 L1184.5,1415.5 L1185.5,1398.2 L1186.5,1381.0 L1187.5,1364.6 L1188.5,1349.7 L1189.5,1337.1 L1190.5,1327.4 L1191.5,1321.2 L1192.5,1319.3 L1193.5,1324.1 L1194.5,1335.5 L1195.5,1352.2 L1196.5,1372.7 L1197.5,1395.4 L1198.5,1418.9 L1199.5,1441.6 L1200.5,1462.1 L1201.5,1478.8 L1202.5,1490.2 L1203.5,1495.0 L1204.5,1491.2 L1205.5,1479.3 L1206.5,1461.3 L1207.5,1439.4 L1208.5,1415.6 L1209.5,1392.0 L1210.5,1370.7 L1211.5,1353.8 L1212.5,1343.3 L1213.5,1341.3 L1214.5,1346.0 L1215.5,1355.5 L1216.5,1368.8 L1217.5,1384.8 L1218.5,1402.2 L1219.5,1419.9 L1220.5,1436.9 L1221.5,1451.9 L1222.5,1463.8 L1223.5,1471.6 L1224.5,1474.0 L1225.5,1471.1 L1226.5,1464.3 L1227.5,1454.7 L1228.5,1443.2 L1229.5,1431.0 L1230.5,1419.1 L1231.5,1408.5 L1232.5,1400.5 L1233.5,1395.9 L1234.5,1395.5 L1235.5,1397.1 L1236.5,1400.1 L1237.5,1404.2 L1238.5,1409.0 L1239.5,1414.4 L1240.5,1420.1 L1241.5,1425.7 L1242.5,1431.0 L1243.5,1435.7 L1244.5,1439.6 L1245.5,1442.3 L1246.5,1443.6 L1247.5,1442.5 L1248.5,1437.2 L1249.5,1428.5 L1250.5,1417.4 L1251.5,1404.9 L1252.5,1392.0 L1253.5,1379.6 L1254.5,1368.7 L1255.5,1360.3 L1256.5,1355.4 L1257.5,1355.5 L1258.5,1365.5 L1259.5,1384.1 L1260.5,1408.5 L1261.5,1435.9 L1262.5,1463.3 L1263.5,1488.2 L1264.5,1507.5 L1265.5,1518.5 L1266.5,1519.0 L1267.5,1511.3 L1268.5,1497.4 L1269.5,1478.8 L1270.5,1457.0 L1271.5,1433.7 L1272.5,1410.3 L1273.5,1388.3 L1274.5,1369.3 L1275.5,1354.9 L1276.5,1346.5 L1277.5,1345.5 L1278.5,1350.2 L1279.5,1359.4 L1280.5,1372.1 L1281.5,1387.2 L1282.5,1403.9 L1283.5,1421.2 L1284.5,1438.1 L1285.5,1453.7 L1286.5,1466.9 L1287.5,1476.9 L1288.5,1482.6 L1289.5,1483.3 L1290.5,1480.4 L1291.5,1474.7 L1292.5,1466.8 L1293.5,1457.3 L1294.5,1446.6 L1295.5,1435.5 L1296.5,1424.3 L1297.5,1413.6 L1298.5,1404.1 L1299.5,1396.2 L1300.5,1390.5 L1301.5,1387.6 L1302.5,1388.7 L1303.5,1396.7 L1304.5,1409.9 L1305.5,1426.6 L1306.5,1444.8 L1307.5,1462.6 L1308.5,1478.2 L1309.5,1489.5 L1310.5,1494.8 L1311.5,1493.1 L1312.5,1485.9 L1313.5,1474.4 L1314.5,1459.8 L1315.5,1443.2 L1316.5,1425.6 L1317.5,1408.3 L1318.5,1392.3 L1319.5,1378.9 L1320.5,1369.0 L1321.5,1363.8 L1322.5,1364.5 L1323.5,1371.1 L1324.5,1382.4 L1325.5,1396.8 L1326.5,1412.9 L1327.5,1429.4 L1328.5,1444.6 L1329.5,1457.3 L1330.5,1466.0 L1331.5,1469.2 L1332.5,1467.8 L1333.5,1463.7 L1334.5,1457.5 L1335.5,1449.6 L1336.5,1440.5 L1337.5,1430.5 L1338.5,1420.2 L1339.5,1410.0 L1340.5,1400.3 L1341.5,1391.6 L1342.5,1384.3 L1343.5,1378.9 L1344.5,1375.8 L1345.5,1375.6 L1346.5,1379.3 L1347.5,1386.2 L1348.5,1395.8 L1349.5,1407.3 L1350.5,1420.0 L1351.5,1433.1 L1352.5,1445.9 L1353.5,1457.7 L1354.5,1467.7 L1355.5,1475.3 L1356.5,1479.6 L1357.5,1479.8 L1358.5,1473.7 L1359.5,1462.1 L1360.5,1446.7 L1361.5,1429.2 L1362.5,1410.9 L1363.5,1393.7 L1364.5,1378.9 L1365.5,1368.3 L1366.5,1363.5 L1367.5,1365.1 L1368.5,1371.6 L1369.5,1382.1 L1370.5,1395.4 L1371.5,1410.6 L1372.5,1426.7 L1373.5,1442.5 L1374.5,1457.1 L1375.5,1469.4 L1376.5,1478.4 L1377.5,1483.2 L1378.5,1482.4 L1379.5,1475.9 L1380.5,1464.8 L1381.5,1450.6 L1382.5,1434.7 L1383.5,1418.5 L1384.5,1403.5 L1385.5,1391.0 L1386.5,1382.5 L1387.5,1379.3 L1388.5,1381.0 L1389.5,1385.7 L1390.5,1392.6 L1391.5,1401.3 L1392.5,1411.0 L1393.5,1421.1 L1394.5,1430.9 L1395.5,1439.8 L1396.5,1447.2 L1397.5,1452.4 L1398.5,1454.7 L1399.5,1453.8 L1400.5,1449.9 L1401.5,1443.6 L1402.5,1435.5 L1403.5,1426.0 L1404.5,1415.7 L1405.5,1405.1 L1406.5,1394.8 L1407.5,1385.2 L1408.5,1376.9 L1409.5,1370.4 L1410.5,1366.3 L1411.5,1365.0 L1412.5,1369.0 L1413.5,1378.5 L1414.5,1392.4 L1415.5,1409.1 L1416.5,1427.5 L1417.5,1446.1 L1418.5,1463.7 L1419.5,1478.9 L1420.5,1490.3 L1421.5,1496.6 L1422.5,1496.5 L1423.5,1489.2 L1424.5,1476.0 L1425.5,1458.7 L1426.5,1438.7 L1427.5,1417.7 L1428.5,1397.2 L1429.5,1378.9 L1430.5,1364.3 L1431.5,1355.1 L1432.5,1352.7 L1433.5,1355.3 L1434.5,1361.3 L1435.5,1370.0 L1436.5,1380.8 L1437.5,1393.0 L1438.5,1406.2 L1439.5,1419.6 L1440.5,1432.7 L1441.5,1444.8 L1442.5,1455.4 L1443.5,1463.8 L1444.5,1469.5 L1445.5,1471.8 L1446.5,1470.3 L1447.5,1465.6 L1448.5,1458.2 L1449.5,1448.8 L1450.5,1438.1 L1451.5,1426.6 L1452.5,1415.1 L1453.5,1404.1 L1454.5,1394.2 L1455.5,1386.2 L1456.5,1380.6 L1457.5,1378.1 L1458.5,1380.0 L1459.5,1387.4 L1460.5,1398.7 L1461.5,1412.6 L1462.5,1427.4 L1463.5,1441.7 L1464.5,1454.0 L1465.5,1462.7 L1466.5,1466.4 L1467.5,1463.7 L1468.5,1455.4 L1469.5,1442.8 L1470.5,1427.4 L1471.5,1410.8 L1472.5,1394.5 L1473.5,1379.8 L1474.5,1368.3 L1475.5,1361.5 L1476.5,1360.8 L1477.5,1365.6 L1478.5,1374.9 L1479.5,1387.3 L1480.5,1401.8 L1481.5,1417.3 L1482.5,1432.5 L1483.5,1446.3 L1484.5,1457.6 L1485.5,1465.2 L1486.5,1468.0 L1487.5,1466.9 L1488.5,1464.0 L1489.5,1459.4 L1490.5,1453.7 L1491.5,1447.2 L1492.5,1440.3 L1493.5,1433.2 L1494.5,1426.4 L1495.5,1420.3 L1496.5,1415.1 L1497.5,1411.3 L1498.5,1409.3 L1499.5,1409.3 L1500.5,1411.6 L1501.5,1415.7 L1502.5,1421.3 L1503.5,1427.9 L1504.5,1435.1 L1505.5,1442.5 L1506.5,1449.5 L1507.5,1455.9 L1508.5,1461.1 L1509.5,1464.7 L1510.5,1466.4 L1511.5,1464.6 L1512.5,1457.9 L1513.5,1447.2 L1514.5,1433.6 L1515.5,1418.3 L1516.5,1402.3 L1517.5,1386.8 L1518.5,1372.8 L1519.5,1361.4 L1520.5,1353.8 L1521.5,1351.0 L1522.5,1353.9 L1523.5,1361.9 L1524.5,1373.9 L1525.5,1388.5 L1526.5,1404.8 L1527.5,1421.4 L1528.5,1437.3 L1529.5,1451.3 L1530.5,1462.1 L1531.5,1468.7 L1532.5,1470.0 L1533.5,1467.3 L1534.5,1461.8 L1535.5,1454.1 L1536.5,1445.0 L1537.5,1435.1 L1538.5,1425.2 L1539.5,1415.8 L1540.5,1407.8 L1541.5,1401.8 L1542.5,1398.4 L1543.5,1398.3 L1544.5,1400.3 L1545.5,1404.1 L1546.5,1409.2 L1547.5,1415.4 L1548.5,1422.4 L1549.5,1429.8 L1550.5,1437.2 L1551.5,1444.4 L1552.5,1451.1 L1553.5,1456.8 L1554.5,1461.3 L1555.5,1464.2 L1556.5,1465.3 L1557.5,1462.8 L1558.5,1455.9 L1559.5,1445.6 L1560.5,1432.9 L1561.5,1418.6 L1562.5,1403.8 L1563.5,1389.5 L1564.5,1376.6 L1565.5,1366.0 L1566.5,1358.7 L1567.5,1355.7 L1568.5,1359.0 L1569.5,1369.3 L1570.5,1384.8 L1571.5,1403.7 L1572.5,1424.0 L1573.5,1444.0 L1574.5,1461.8 L1575.5,1475.4 L1576.5,1483.1 L1577.5,1483.5 L1578.5,1478.3 L1579.5,1469.0 L1580.5,1456.4 L1581.5,1441.7 L1582.5,1425.8 L1583.5,1409.8 L1584.5,1394.6 L1585.5,1381.3 L1586.5,1370.9 L1587.5,1364.3 L1588.5,1362.7 L1589.5,1365.8 L1590.5,1372.6 L1591.5,1382.4 L1592.5,1394.1 L1593.5,1407.2 L1594.5,1420.6 L1595.5,1433.5 L1596.5,1445.1 L1597.5,1454.6 L1598.5,1461.1 L1599.5,1463.8 L1600.5,1462.7 L1601.5,1459.0 L1602.5,1453.1 L1603.5,1445.6 L1604.5,1436.9 L1605.5,1427.3 L1606.5,1417.4 L1607.5,1407.6 L1608.5,1398.3 L1609.5,1390.0 L1610.5,1383.1 L1611.5,1378.1 L1612.5,1375.4 L1613.5,1375.7 L1614.5,1380.7 L1615.5,1389.8 L1616.5,1401.6 L1617.5,1415.2 L1618.5,1429.3 L1619.5,1442.9 L1620.5,1454.7 L1621.5,1463.8 L1622.5,1468.8 L1623.5,1468.8 L1624.5,1463.9 L1625.5,1455.2 L1626.5,1443.7 L1627.5,1430.6 L1628.5,1416.9 L1629.5,1403.8 L1630.5,1392.3 L1631.5,1383.6 L1632.5,1378.7 L1633.5,1378.5 L1634.5,1382.4 L1635.5,1389.4 L1636.5,1398.7 L1637.5,1409.4 L1638.5,1420.9 L1639.5,1432.2 L1640.5,1442.6 L1641.5,1451.3 L1642.5,1457.4 L1643.5,1460.2 L1644.5,1459.8 L1645.5,1458.0 L1646.5,1454.6 L1647.5,1449.9 L1648.5,1443.6 L1649.0,1440.0" stroke="#00dd00" stroke-width="10"/>
</g>
<line x1="1085" y1="1781.5" x2="1198" y2="1781.5" stroke="#ff0000" stroke-width="8" stroke-linecap="round"/>
<line x1="1085" y1="1844.5" x2="1198" y2="1844.5" stroke="#000" stroke-width="8" stroke-linecap="round"/>
<line x1="1085" y1="1907.5" x2="1198" y2="1907.5" stroke="#00dd00" stroke-width="8" stroke-linecap="round"/>
<text class="lbl" transform="matrix(0.9781 0 0 0.9472 12.38 112.84)" font-size="107">(a)</text>
<text class="lbl" transform="matrix(0.9919 0 0 0.9430 16.19 1204.81)" font-size="107">(b)</text>
<text transform="matrix(0.9789 0 0 1.0338 224.56 73.21)" font-size="70">1.0</text>
<text transform="matrix(0.9734 0 0 1.0268 224.20 343.22)" font-size="70">0.8</text>
<text transform="matrix(0.9804 0 0 1.0289 224.19 611.31)" font-size="70">0.6</text>
<text transform="matrix(0.9668 0 0 1.0358 224.22 880.21)" font-size="70">0.4</text>
<text transform="matrix(0.9716 0 0 1.0213 157.11 1159.22)" font-size="66">0.004</text>
<text transform="matrix(0.9758 0 0 1.0213 157.30 1461.22)" font-size="66">0.000</text>
<text transform="matrix(0.9745 0 0 1.0277 135.10 1763.31)" font-size="66">-0.004</text>
<text transform="matrix(0.9779 0 0 1.0255 135.09 2066.32)" font-size="66">-0.008</text>
<text transform="matrix(0.9875 0 0 1.0399 387.52 141.41)" font-size="70">100 K</text>
<text transform="matrix(1.0094 0 0 1.0301 1282.14 116.60)" font-size="49" fill="#ff0000">PNMO/STO-(A)</text>
<text transform="matrix(1.0071 0 0 1.0279 1282.14 179.32)" font-size="49">PNMO/LAO-(B)</text>
<text transform="matrix(1.0071 0 0 1.0346 1282.14 242.55)" font-size="49" fill="#00dd00">PNMO/LAO-(C)</text>
<text transform="matrix(0.9876 0 0 0.9785 449.18 401.02)" font-size="56">Mn,Ni 3<tspan font-style="italic">d</tspan></text>
<text transform="matrix(0.9903 0 0 0.9600 752.37 613.36)" font-size="56">Pr 5<tspan font-style="italic">d</tspan></text>
<text transform="matrix(0.9883 0 0 0.9665 953.18 357.52)" font-size="56">Mn,Ni 4<tspan font-style="italic">p</tspan></text>
<text transform="matrix(0.9828 0 0 0.9925 997.11 690.09)" font-size="56" fill="#0000ff">O <tspan font-style="italic">K</tspan> edge</text>
<text transform="matrix(0.9938 0 0 1.0083 1353.38 1243.03)" font-size="60">O <tspan font-style="italic">K</tspan> edge</text>
<text transform="matrix(0.9880 0 0 1.0370 1353.78 1318.81)" font-size="60">100 K</text>
<text transform="matrix(1.0094 0 0 1.0191 1212.14 1798.51)" font-size="49" fill="#ff0000">PNMO/STO-(A)</text>
<text transform="matrix(1.0091 0 0 1.0301 1212.14 1861.40)" font-size="49">PNMO/LAO-(B)</text>
<text transform="matrix(1.0091 0 0 1.0191 1212.14 1925.21)" font-size="49" fill="#00dd00">PNMO/LAO-(C)</text>
<text transform="matrix(0.9796 0 0 1.0031 192.63 722.67) rotate(-90)" font-size="70">XAS<tspan font-size="62" dy="14">TEY</tspan><tspan dy="-14">(a.u.)</tspan></text>
<text transform="matrix(0.9796 0 0 1.0313 117.63 1868.69) rotate(-90)" font-size="70">XMCD<tspan font-size="62" dy="14">TEY</tspan><tspan dy="-14">(a.u.)</tspan></text>
<text transform="matrix(0.9700 0 0 1.0184 283.24 2281.52)" font-size="72">525</text>
<text transform="matrix(0.9619 0 0 1.0118 501.76 2281.53)" font-size="72">530</text>
<text transform="matrix(0.9605 0 0 1.0118 719.96 2281.53)" font-size="72">535</text>
<text transform="matrix(0.9637 0 0 1.0118 937.55 2281.53)" font-size="72">540</text>
<text transform="matrix(0.9519 0 0 1.0320 1155.48 2281.51)" font-size="72">545</text>
<text transform="matrix(0.9480 0 0 1.0118 1373.69 2281.53)" font-size="72">550</text>
<text transform="matrix(0.9510 0 0 1.0320 1591.48 2281.51)" font-size="72">555</text>
<text transform="matrix(1.0032 0 0 1.0104 670.65 2354.19)" font-size="82">Photon Energy(eV)</text>
</svg></body></html>
